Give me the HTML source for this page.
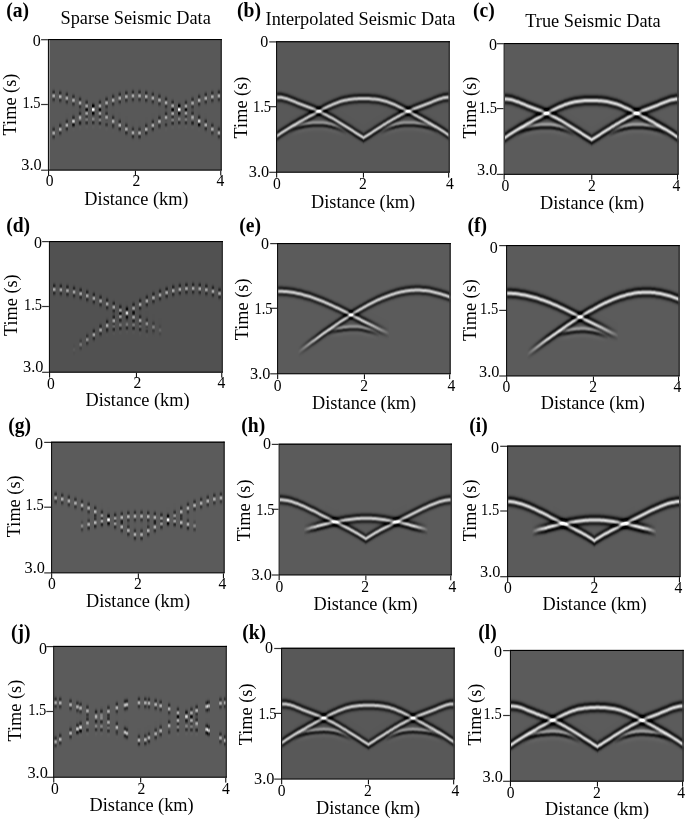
<!DOCTYPE html><html><head><meta charset="utf-8"><title>Seismic interpolation figure</title>
<style>html,body{margin:0;padding:0;background:#fff}svg{display:block}text{font-family:"Liberation Serif","Times New Roman",serif;fill:#000}.b{font-weight:bold;font-size:19.6px}.t{font-size:18.3px}.k{font-size:14.5px}.k3{font-size:16.3px}.k0{font-size:16px}.kx{font-size:15.6px}.pl{mix-blend-mode:plus-lighter}</style></head><body>
<svg width="685" height="821" viewBox="0 0 685 821">
<defs>
<clipPath id="ca"><rect x="49" y="39" width="172.9" height="130.9"/></clipPath><filter id="rka" filterUnits="userSpaceOnUse" x="47" y="25" width="176.9" height="158.9" color-interpolation-filters="sRGB"><feGaussianBlur stdDeviation="0.75 0.01" result="s"/><feColorMatrix in="s" type="matrix" values="1 0 0 0 0 1 0 0 0 0 1 0 0 0 0 0 0 0 0 1"/><feConvolveMatrix order="1 21" kernelMatrix="-0 -0.002 -0.008 -0.033 -0.103 -0.237 -0.375 -0.343 0.008 0.488 0.743 0.538 0.08 -0.282 -0.338 -0.22 -0.098 -0.032 -0.008 -0.001 -0" divisor="1" bias="0.3412" edgeMode="none" preserveAlpha="true" result="r1"/><feColorMatrix in="s" type="matrix" values="0 1 0 0 0 0 1 0 0 0 0 1 0 0 0 0 0 0 0 1"/><feConvolveMatrix order="1 25" kernelMatrix="-0.001 -0.003 -0.006 -0.011 -0.023 -0.044 -0.068 -0.053 0.081 0.353 0.586 0.481 0 -0.481 -0.586 -0.353 -0.081 0.053 0.068 0.044 0.023 0.011 0.006 0.003 0.001" divisor="1" bias="0.5" edgeMode="none" preserveAlpha="true" result="r2"/><feComposite in="r1" in2="r2" operator="arithmetic" k1="0" k2="1" k3="1" k4="-0.5"/></filter><clipPath id="cb"><rect x="277.1" y="41.2" width="172.8" height="130.8"/></clipPath><filter id="rkb" filterUnits="userSpaceOnUse" x="275.1" y="27.2" width="176.8" height="158.8" color-interpolation-filters="sRGB"><feGaussianBlur stdDeviation="0.5 0.01" result="s"/><feColorMatrix in="s" type="matrix" values="1 0 0 0 0 1 0 0 0 0 1 0 0 0 0 0 0 0 0 1"/><feConvolveMatrix order="1 21" kernelMatrix="-0 -0 -0.003 -0.014 -0.056 -0.158 -0.301 -0.333 -0.054 0.401 0.657 0.448 0.009 -0.283 -0.275 -0.148 -0.053 -0.014 -0.003 -0 -0" divisor="1" bias="0.3412" edgeMode="none" preserveAlpha="true" result="r1"/><feColorMatrix in="s" type="matrix" values="0 1 0 0 0 0 1 0 0 0 0 1 0 0 0 0 0 0 0 1"/><feConvolveMatrix order="1 25" kernelMatrix="-0.001 -0.002 -0.004 -0.007 -0.015 -0.03 -0.055 -0.062 0.021 0.254 0.503 0.447 -0 -0.447 -0.503 -0.254 -0.021 0.062 0.055 0.03 0.015 0.007 0.004 0.002 0.001" divisor="1" bias="0.5" edgeMode="none" preserveAlpha="true" result="r2"/><feComposite in="r1" in2="r2" operator="arithmetic" k1="0" k2="1" k3="1" k4="-0.5"/></filter><linearGradient id="g1" gradientUnits="userSpaceOnUse" x1="277.1" x2="363.5" y1="0" y2="0"><stop offset="0.000" stop-color="#b20000"/><stop offset="0.519" stop-color="#b20000"/><stop offset="1.000" stop-color="#b23e00"/></linearGradient><linearGradient id="g2" gradientUnits="userSpaceOnUse" x1="363.5" x2="449.9" y1="0" y2="0"><stop offset="0.000" stop-color="#b23e00"/><stop offset="0.481" stop-color="#b20000"/><stop offset="1.000" stop-color="#b20000"/></linearGradient><linearGradient id="g3" gradientUnits="userSpaceOnUse" x1="289.1" x2="346.8" y1="0" y2="0"><stop offset="0.000" stop-color="#000000"/><stop offset="0.207" stop-color="#007400"/><stop offset="0.759" stop-color="#007400"/><stop offset="1.000" stop-color="#000000"/></linearGradient><linearGradient id="g4" gradientUnits="userSpaceOnUse" x1="380.2" x2="437.9" y1="0" y2="0"><stop offset="0.000" stop-color="#000000"/><stop offset="0.241" stop-color="#007400"/><stop offset="0.793" stop-color="#007400"/><stop offset="1.000" stop-color="#000000"/></linearGradient><clipPath id="cc"><rect x="504.7" y="43" width="174" height="131.1"/></clipPath><filter id="rkc" filterUnits="userSpaceOnUse" x="502.7" y="29" width="178" height="159.1" color-interpolation-filters="sRGB"><feGaussianBlur stdDeviation="0.5 0.01" result="s"/><feColorMatrix in="s" type="matrix" values="1 0 0 0 0 1 0 0 0 0 1 0 0 0 0 0 0 0 0 1"/><feConvolveMatrix order="1 21" kernelMatrix="-0 -0.002 -0.008 -0.033 -0.103 -0.237 -0.375 -0.343 0.008 0.488 0.743 0.538 0.08 -0.282 -0.338 -0.22 -0.098 -0.032 -0.008 -0.001 -0" divisor="1" bias="0.3529" edgeMode="none" preserveAlpha="true" result="r1"/><feColorMatrix in="s" type="matrix" values="0 1 0 0 0 0 1 0 0 0 0 1 0 0 0 0 0 0 0 1"/><feConvolveMatrix order="1 25" kernelMatrix="-0.001 -0.003 -0.006 -0.011 -0.023 -0.044 -0.068 -0.053 0.081 0.353 0.586 0.481 0 -0.481 -0.586 -0.353 -0.081 0.053 0.068 0.044 0.023 0.011 0.006 0.003 0.001" divisor="1" bias="0.5" edgeMode="none" preserveAlpha="true" result="r2"/><feComposite in="r1" in2="r2" operator="arithmetic" k1="0" k2="1" k3="1" k4="-0.5"/></filter><linearGradient id="g5" gradientUnits="userSpaceOnUse" x1="504.7" x2="591.7" y1="0" y2="0"><stop offset="0.000" stop-color="#b20000"/><stop offset="0.519" stop-color="#b20000"/><stop offset="1.000" stop-color="#b23e00"/></linearGradient><linearGradient id="g6" gradientUnits="userSpaceOnUse" x1="591.7" x2="678.7" y1="0" y2="0"><stop offset="0.000" stop-color="#b23e00"/><stop offset="0.481" stop-color="#b20000"/><stop offset="1.000" stop-color="#b20000"/></linearGradient><linearGradient id="g7" gradientUnits="userSpaceOnUse" x1="516.7" x2="574.9" y1="0" y2="0"><stop offset="0.000" stop-color="#000000"/><stop offset="0.207" stop-color="#007400"/><stop offset="0.759" stop-color="#007400"/><stop offset="1.000" stop-color="#000000"/></linearGradient><linearGradient id="g8" gradientUnits="userSpaceOnUse" x1="608.5" x2="666.7" y1="0" y2="0"><stop offset="0.000" stop-color="#000000"/><stop offset="0.241" stop-color="#007400"/><stop offset="0.793" stop-color="#007400"/><stop offset="1.000" stop-color="#000000"/></linearGradient><clipPath id="cd"><rect x="50" y="241" width="173" height="131"/></clipPath><filter id="rkd" filterUnits="userSpaceOnUse" x="48" y="227" width="177" height="159" color-interpolation-filters="sRGB"><feGaussianBlur stdDeviation="0.75 0.01" result="s"/><feColorMatrix in="s" type="matrix" values="1 0 0 0 0 1 0 0 0 0 1 0 0 0 0 0 0 0 0 1"/><feConvolveMatrix order="1 21" kernelMatrix="-0 -0.002 -0.008 -0.033 -0.103 -0.237 -0.375 -0.343 0.008 0.488 0.743 0.538 0.08 -0.282 -0.338 -0.22 -0.098 -0.032 -0.008 -0.001 -0" divisor="1" bias="0.3137" edgeMode="none" preserveAlpha="true" result="r1"/><feColorMatrix in="s" type="matrix" values="0 1 0 0 0 0 1 0 0 0 0 1 0 0 0 0 0 0 0 1"/><feConvolveMatrix order="1 25" kernelMatrix="-0.001 -0.003 -0.006 -0.011 -0.023 -0.044 -0.068 -0.053 0.081 0.353 0.586 0.481 0 -0.481 -0.586 -0.353 -0.081 0.053 0.068 0.044 0.023 0.011 0.006 0.003 0.001" divisor="1" bias="0.5" edgeMode="none" preserveAlpha="true" result="r2"/><feComposite in="r1" in2="r2" operator="arithmetic" k1="0" k2="1" k3="1" k4="-0.5"/></filter><clipPath id="ce"><rect x="278.1" y="243" width="172.7" height="130.5"/></clipPath><filter id="rke" filterUnits="userSpaceOnUse" x="276.1" y="229" width="176.7" height="158.5" color-interpolation-filters="sRGB"><feGaussianBlur stdDeviation="0.5 0.01" result="s"/><feColorMatrix in="s" type="matrix" values="1 0 0 0 0 1 0 0 0 0 1 0 0 0 0 0 0 0 0 1"/><feConvolveMatrix order="1 21" kernelMatrix="-0 -0 -0.003 -0.014 -0.056 -0.158 -0.301 -0.333 -0.054 0.401 0.657 0.448 0.009 -0.283 -0.275 -0.148 -0.053 -0.014 -0.003 -0 -0" divisor="1" bias="0.3529" edgeMode="none" preserveAlpha="true" result="r1"/><feColorMatrix in="s" type="matrix" values="0 1 0 0 0 0 1 0 0 0 0 1 0 0 0 0 0 0 0 1"/><feConvolveMatrix order="1 25" kernelMatrix="-0.001 -0.002 -0.004 -0.007 -0.015 -0.03 -0.055 -0.062 0.021 0.254 0.503 0.447 -0 -0.447 -0.503 -0.254 -0.021 0.062 0.055 0.03 0.015 0.007 0.004 0.002 0.001" divisor="1" bias="0.5" edgeMode="none" preserveAlpha="true" result="r2"/><feComposite in="r1" in2="r2" operator="arithmetic" k1="0" k2="1" k3="1" k4="-0.5"/></filter><linearGradient id="g9" gradientUnits="userSpaceOnUse" x1="278.1" x2="389.6" y1="0" y2="0"><stop offset="0.000" stop-color="#b20000"/><stop offset="0.625" stop-color="#b20000"/><stop offset="0.786" stop-color="#b22700"/><stop offset="0.848" stop-color="#893600"/><stop offset="0.893" stop-color="#6b2600"/><stop offset="1.000" stop-color="#000000"/></linearGradient><linearGradient id="g10" gradientUnits="userSpaceOnUse" x1="298" x2="450.8" y1="0" y2="0"><stop offset="0.000" stop-color="#000000"/><stop offset="0.065" stop-color="#590000"/><stop offset="0.143" stop-color="#b20000"/><stop offset="1.000" stop-color="#b20000"/></linearGradient><linearGradient id="g11" gradientUnits="userSpaceOnUse" x1="327.9" x2="379.6" y1="0" y2="0"><stop offset="0.000" stop-color="#000000"/><stop offset="0.192" stop-color="#006b00"/><stop offset="0.769" stop-color="#006b00"/><stop offset="1.000" stop-color="#000000"/></linearGradient><clipPath id="cf"><rect x="507.1" y="245" width="172.7" height="130.7"/></clipPath><filter id="rkf" filterUnits="userSpaceOnUse" x="505.1" y="231" width="176.7" height="158.7" color-interpolation-filters="sRGB"><feGaussianBlur stdDeviation="0.5 0.01" result="s"/><feColorMatrix in="s" type="matrix" values="1 0 0 0 0 1 0 0 0 0 1 0 0 0 0 0 0 0 0 1"/><feConvolveMatrix order="1 21" kernelMatrix="-0 -0.002 -0.008 -0.033 -0.103 -0.237 -0.375 -0.343 0.008 0.488 0.743 0.538 0.08 -0.282 -0.338 -0.22 -0.098 -0.032 -0.008 -0.001 -0" divisor="1" bias="0.3529" edgeMode="none" preserveAlpha="true" result="r1"/><feColorMatrix in="s" type="matrix" values="0 1 0 0 0 0 1 0 0 0 0 1 0 0 0 0 0 0 0 1"/><feConvolveMatrix order="1 25" kernelMatrix="-0.001 -0.003 -0.006 -0.011 -0.023 -0.044 -0.068 -0.053 0.081 0.353 0.586 0.481 0 -0.481 -0.586 -0.353 -0.081 0.053 0.068 0.044 0.023 0.011 0.006 0.003 0.001" divisor="1" bias="0.5" edgeMode="none" preserveAlpha="true" result="r2"/><feComposite in="r1" in2="r2" operator="arithmetic" k1="0" k2="1" k3="1" k4="-0.5"/></filter><linearGradient id="g12" gradientUnits="userSpaceOnUse" x1="507.1" x2="618.6" y1="0" y2="0"><stop offset="0.000" stop-color="#b20000"/><stop offset="0.625" stop-color="#b20000"/><stop offset="0.786" stop-color="#b22700"/><stop offset="0.848" stop-color="#893600"/><stop offset="0.893" stop-color="#6b2600"/><stop offset="1.000" stop-color="#000000"/></linearGradient><linearGradient id="g13" gradientUnits="userSpaceOnUse" x1="527" x2="679.8" y1="0" y2="0"><stop offset="0.000" stop-color="#000000"/><stop offset="0.065" stop-color="#590000"/><stop offset="0.143" stop-color="#b20000"/><stop offset="1.000" stop-color="#b20000"/></linearGradient><linearGradient id="g14" gradientUnits="userSpaceOnUse" x1="556.9" x2="608.6" y1="0" y2="0"><stop offset="0.000" stop-color="#000000"/><stop offset="0.192" stop-color="#006b00"/><stop offset="0.769" stop-color="#006b00"/><stop offset="1.000" stop-color="#000000"/></linearGradient><clipPath id="cg"><rect x="52.1" y="441.7" width="172.6" height="130.9"/></clipPath><filter id="rkg" filterUnits="userSpaceOnUse" x="50.1" y="427.7" width="176.6" height="158.9" color-interpolation-filters="sRGB"><feGaussianBlur stdDeviation="0.75 0.01" result="s"/><feColorMatrix in="s" type="matrix" values="1 0 0 0 0 1 0 0 0 0 1 0 0 0 0 0 0 0 0 1"/><feConvolveMatrix order="1 21" kernelMatrix="-0 -0.002 -0.008 -0.033 -0.103 -0.237 -0.375 -0.343 0.008 0.488 0.743 0.538 0.08 -0.282 -0.338 -0.22 -0.098 -0.032 -0.008 -0.001 -0" divisor="1" bias="0.3529" edgeMode="none" preserveAlpha="true" result="r1"/><feColorMatrix in="s" type="matrix" values="0 1 0 0 0 0 1 0 0 0 0 1 0 0 0 0 0 0 0 1"/><feConvolveMatrix order="1 25" kernelMatrix="-0.001 -0.003 -0.006 -0.011 -0.023 -0.044 -0.068 -0.053 0.081 0.353 0.586 0.481 0 -0.481 -0.586 -0.353 -0.081 0.053 0.068 0.044 0.023 0.011 0.006 0.003 0.001" divisor="1" bias="0.5" edgeMode="none" preserveAlpha="true" result="r2"/><feComposite in="r1" in2="r2" operator="arithmetic" k1="0" k2="1" k3="1" k4="-0.5"/></filter><clipPath id="ch"><rect x="279.7" y="443.7" width="172.3" height="131"/></clipPath><filter id="rkh" filterUnits="userSpaceOnUse" x="277.7" y="429.7" width="176.3" height="159" color-interpolation-filters="sRGB"><feGaussianBlur stdDeviation="0.5 0.01" result="s"/><feColorMatrix in="s" type="matrix" values="1 0 0 0 0 1 0 0 0 0 1 0 0 0 0 0 0 0 0 1"/><feConvolveMatrix order="1 21" kernelMatrix="-0 -0 -0.003 -0.014 -0.056 -0.158 -0.301 -0.333 -0.054 0.401 0.657 0.448 0.009 -0.283 -0.275 -0.148 -0.053 -0.014 -0.003 -0 -0" divisor="1" bias="0.3529" edgeMode="none" preserveAlpha="true" result="r1"/><feColorMatrix in="s" type="matrix" values="0 1 0 0 0 0 1 0 0 0 0 1 0 0 0 0 0 0 0 1"/><feConvolveMatrix order="1 25" kernelMatrix="-0.001 -0.002 -0.004 -0.007 -0.015 -0.03 -0.055 -0.062 0.021 0.254 0.503 0.447 -0 -0.447 -0.503 -0.254 -0.021 0.062 0.055 0.03 0.015 0.007 0.004 0.002 0.001" divisor="1" bias="0.5" edgeMode="none" preserveAlpha="true" result="r2"/><feComposite in="r1" in2="r2" operator="arithmetic" k1="0" k2="1" k3="1" k4="-0.5"/></filter><linearGradient id="g15" gradientUnits="userSpaceOnUse" x1="279.7" x2="365.9" y1="0" y2="0"><stop offset="0.000" stop-color="#b20000"/><stop offset="0.519" stop-color="#b20000"/><stop offset="1.000" stop-color="#b23e00"/></linearGradient><linearGradient id="g16" gradientUnits="userSpaceOnUse" x1="365.9" x2="452" y1="0" y2="0"><stop offset="0.000" stop-color="#b23e00"/><stop offset="0.481" stop-color="#b20000"/><stop offset="1.000" stop-color="#b20000"/></linearGradient><linearGradient id="g17" gradientUnits="userSpaceOnUse" x1="303.5" x2="428.2" y1="0" y2="0"><stop offset="0.000" stop-color="#000000"/><stop offset="0.048" stop-color="#474300"/><stop offset="0.064" stop-color="#625900"/><stop offset="0.112" stop-color="#b25900"/><stop offset="0.207" stop-color="#b25900"/><stop offset="0.287" stop-color="#b20000"/><stop offset="0.713" stop-color="#b20000"/><stop offset="0.793" stop-color="#b25900"/><stop offset="0.888" stop-color="#b25900"/><stop offset="0.936" stop-color="#625900"/><stop offset="0.952" stop-color="#474300"/><stop offset="1.000" stop-color="#000000"/></linearGradient><clipPath id="ci"><rect x="508.1" y="445.6" width="172.5" height="130.8"/></clipPath><filter id="rki" filterUnits="userSpaceOnUse" x="506.1" y="431.6" width="176.5" height="158.8" color-interpolation-filters="sRGB"><feGaussianBlur stdDeviation="0.5 0.01" result="s"/><feColorMatrix in="s" type="matrix" values="1 0 0 0 0 1 0 0 0 0 1 0 0 0 0 0 0 0 0 1"/><feConvolveMatrix order="1 21" kernelMatrix="-0 -0.002 -0.008 -0.033 -0.103 -0.237 -0.375 -0.343 0.008 0.488 0.743 0.538 0.08 -0.282 -0.338 -0.22 -0.098 -0.032 -0.008 -0.001 -0" divisor="1" bias="0.3529" edgeMode="none" preserveAlpha="true" result="r1"/><feColorMatrix in="s" type="matrix" values="0 1 0 0 0 0 1 0 0 0 0 1 0 0 0 0 0 0 0 1"/><feConvolveMatrix order="1 25" kernelMatrix="-0.001 -0.003 -0.006 -0.011 -0.023 -0.044 -0.068 -0.053 0.081 0.353 0.586 0.481 0 -0.481 -0.586 -0.353 -0.081 0.053 0.068 0.044 0.023 0.011 0.006 0.003 0.001" divisor="1" bias="0.5" edgeMode="none" preserveAlpha="true" result="r2"/><feComposite in="r1" in2="r2" operator="arithmetic" k1="0" k2="1" k3="1" k4="-0.5"/></filter><linearGradient id="g18" gradientUnits="userSpaceOnUse" x1="508.1" x2="594.4" y1="0" y2="0"><stop offset="0.000" stop-color="#b20000"/><stop offset="0.519" stop-color="#b20000"/><stop offset="1.000" stop-color="#b23e00"/></linearGradient><linearGradient id="g19" gradientUnits="userSpaceOnUse" x1="594.4" x2="680.6" y1="0" y2="0"><stop offset="0.000" stop-color="#b23e00"/><stop offset="0.481" stop-color="#b20000"/><stop offset="1.000" stop-color="#b20000"/></linearGradient><linearGradient id="g20" gradientUnits="userSpaceOnUse" x1="532" x2="656.7" y1="0" y2="0"><stop offset="0.000" stop-color="#000000"/><stop offset="0.048" stop-color="#474300"/><stop offset="0.064" stop-color="#625900"/><stop offset="0.112" stop-color="#b25900"/><stop offset="0.207" stop-color="#b25900"/><stop offset="0.287" stop-color="#b20000"/><stop offset="0.713" stop-color="#b20000"/><stop offset="0.793" stop-color="#b25900"/><stop offset="0.888" stop-color="#b25900"/><stop offset="0.936" stop-color="#625900"/><stop offset="0.952" stop-color="#474300"/><stop offset="1.000" stop-color="#000000"/></linearGradient><clipPath id="cj"><rect x="54.2" y="645.9" width="172.8" height="131.1"/></clipPath><filter id="rkj" filterUnits="userSpaceOnUse" x="52.2" y="631.9" width="176.8" height="159.1" color-interpolation-filters="sRGB"><feGaussianBlur stdDeviation="0.75 0.01" result="s"/><feColorMatrix in="s" type="matrix" values="1 0 0 0 0 1 0 0 0 0 1 0 0 0 0 0 0 0 0 1"/><feConvolveMatrix order="1 21" kernelMatrix="-0 -0.002 -0.008 -0.033 -0.103 -0.237 -0.375 -0.343 0.008 0.488 0.743 0.538 0.08 -0.282 -0.338 -0.22 -0.098 -0.032 -0.008 -0.001 -0" divisor="1" bias="0.3529" edgeMode="none" preserveAlpha="true" result="r1"/><feColorMatrix in="s" type="matrix" values="0 1 0 0 0 0 1 0 0 0 0 1 0 0 0 0 0 0 0 1"/><feConvolveMatrix order="1 25" kernelMatrix="-0.001 -0.003 -0.006 -0.011 -0.023 -0.044 -0.068 -0.053 0.081 0.353 0.586 0.481 0 -0.481 -0.586 -0.353 -0.081 0.053 0.068 0.044 0.023 0.011 0.006 0.003 0.001" divisor="1" bias="0.5" edgeMode="none" preserveAlpha="true" result="r2"/><feComposite in="r1" in2="r2" operator="arithmetic" k1="0" k2="1" k3="1" k4="-0.5"/></filter><clipPath id="ck"><rect x="282.1" y="647.8" width="172.7" height="131"/></clipPath><filter id="rkk" filterUnits="userSpaceOnUse" x="280.1" y="633.8" width="176.7" height="159" color-interpolation-filters="sRGB"><feGaussianBlur stdDeviation="0.5 0.01" result="s"/><feColorMatrix in="s" type="matrix" values="1 0 0 0 0 1 0 0 0 0 1 0 0 0 0 0 0 0 0 1"/><feConvolveMatrix order="1 21" kernelMatrix="-0 -0 -0.003 -0.014 -0.056 -0.158 -0.301 -0.333 -0.054 0.401 0.657 0.448 0.009 -0.283 -0.275 -0.148 -0.053 -0.014 -0.003 -0 -0" divisor="1" bias="0.3412" edgeMode="none" preserveAlpha="true" result="r1"/><feColorMatrix in="s" type="matrix" values="0 1 0 0 0 0 1 0 0 0 0 1 0 0 0 0 0 0 0 1"/><feConvolveMatrix order="1 25" kernelMatrix="-0.001 -0.002 -0.004 -0.007 -0.015 -0.03 -0.055 -0.062 0.021 0.254 0.503 0.447 -0 -0.447 -0.503 -0.254 -0.021 0.062 0.055 0.03 0.015 0.007 0.004 0.002 0.001" divisor="1" bias="0.5" edgeMode="none" preserveAlpha="true" result="r2"/><feComposite in="r1" in2="r2" operator="arithmetic" k1="0" k2="1" k3="1" k4="-0.5"/></filter><linearGradient id="g21" gradientUnits="userSpaceOnUse" x1="282.1" x2="368.5" y1="0" y2="0"><stop offset="0.000" stop-color="#b20000"/><stop offset="0.519" stop-color="#b20000"/><stop offset="1.000" stop-color="#b23e00"/></linearGradient><linearGradient id="g22" gradientUnits="userSpaceOnUse" x1="368.5" x2="454.8" y1="0" y2="0"><stop offset="0.000" stop-color="#b23e00"/><stop offset="0.481" stop-color="#b20000"/><stop offset="1.000" stop-color="#b20000"/></linearGradient><linearGradient id="g23" gradientUnits="userSpaceOnUse" x1="294" x2="351.8" y1="0" y2="0"><stop offset="0.000" stop-color="#000000"/><stop offset="0.207" stop-color="#007400"/><stop offset="0.759" stop-color="#007400"/><stop offset="1.000" stop-color="#000000"/></linearGradient><linearGradient id="g24" gradientUnits="userSpaceOnUse" x1="385.1" x2="442.9" y1="0" y2="0"><stop offset="0.000" stop-color="#000000"/><stop offset="0.241" stop-color="#007400"/><stop offset="0.793" stop-color="#007400"/><stop offset="1.000" stop-color="#000000"/></linearGradient><clipPath id="cl"><rect x="511" y="649.9" width="172.8" height="131.1"/></clipPath><filter id="rkl" filterUnits="userSpaceOnUse" x="509" y="635.9" width="176.8" height="159.1" color-interpolation-filters="sRGB"><feGaussianBlur stdDeviation="0.5 0.01" result="s"/><feColorMatrix in="s" type="matrix" values="1 0 0 0 0 1 0 0 0 0 1 0 0 0 0 0 0 0 0 1"/><feConvolveMatrix order="1 21" kernelMatrix="-0 -0.002 -0.008 -0.033 -0.103 -0.237 -0.375 -0.343 0.008 0.488 0.743 0.538 0.08 -0.282 -0.338 -0.22 -0.098 -0.032 -0.008 -0.001 -0" divisor="1" bias="0.3529" edgeMode="none" preserveAlpha="true" result="r1"/><feColorMatrix in="s" type="matrix" values="0 1 0 0 0 0 1 0 0 0 0 1 0 0 0 0 0 0 0 1"/><feConvolveMatrix order="1 25" kernelMatrix="-0.001 -0.003 -0.006 -0.011 -0.023 -0.044 -0.068 -0.053 0.081 0.353 0.586 0.481 0 -0.481 -0.586 -0.353 -0.081 0.053 0.068 0.044 0.023 0.011 0.006 0.003 0.001" divisor="1" bias="0.5" edgeMode="none" preserveAlpha="true" result="r2"/><feComposite in="r1" in2="r2" operator="arithmetic" k1="0" k2="1" k3="1" k4="-0.5"/></filter><linearGradient id="g25" gradientUnits="userSpaceOnUse" x1="511" x2="597.4" y1="0" y2="0"><stop offset="0.000" stop-color="#b20000"/><stop offset="0.519" stop-color="#b20000"/><stop offset="1.000" stop-color="#b23e00"/></linearGradient><linearGradient id="g26" gradientUnits="userSpaceOnUse" x1="597.4" x2="683.8" y1="0" y2="0"><stop offset="0.000" stop-color="#b23e00"/><stop offset="0.481" stop-color="#b20000"/><stop offset="1.000" stop-color="#b20000"/></linearGradient><linearGradient id="g27" gradientUnits="userSpaceOnUse" x1="523" x2="580.7" y1="0" y2="0"><stop offset="0.000" stop-color="#000000"/><stop offset="0.207" stop-color="#007400"/><stop offset="0.759" stop-color="#007400"/><stop offset="1.000" stop-color="#000000"/></linearGradient><linearGradient id="g28" gradientUnits="userSpaceOnUse" x1="614.1" x2="671.8" y1="0" y2="0"><stop offset="0.000" stop-color="#000000"/><stop offset="0.241" stop-color="#007400"/><stop offset="0.793" stop-color="#007400"/><stop offset="1.000" stop-color="#000000"/></linearGradient>
</defs>
<rect width="685" height="821" fill="#fff"/>
<g id="panel-a">
<rect x="49" y="39" width="172.9" height="130.9" fill="#575757"/>
<g clip-path="url(#ca)"><g filter="url(#rka)" style="isolation:isolate">
<rect x="46" y="24" width="178.9" height="160.9" fill="#000"/>
<rect class="pl" x="52.4" y="95.29" width="2.5" height="1" fill="#790000"/><rect class="pl" x="59" y="96.10" width="2.5" height="1" fill="#790000"/><rect class="pl" x="65.6" y="97.60" width="2.5" height="1" fill="#790000"/><rect class="pl" x="72.2" y="99.73" width="2.5" height="1" fill="#790000"/><rect class="pl" x="78.8" y="102.40" width="2.5" height="1" fill="#790000"/><rect class="pl" x="85.4" y="105.52" width="2.5" height="1" fill="#790000"/><rect class="pl" x="92" y="109.02" width="2.5" height="1" fill="#790000"/><rect class="pl" x="98.7" y="112.79" width="2.5" height="1" fill="#790500"/><rect class="pl" x="105.3" y="116.76" width="2.5" height="1" fill="#790c00"/><rect class="pl" x="111.9" y="120.82" width="2.5" height="1" fill="#791300"/><rect class="pl" x="118.5" y="124.88" width="2.5" height="1" fill="#791900"/><rect class="pl" x="125.1" y="128.83" width="2.5" height="1" fill="#792000"/><rect class="pl" x="131.7" y="132.57" width="2.5" height="1" fill="#792700"/>
<rect class="pl" x="138.3" y="132.75" width="2.5" height="1" fill="#792700"/><rect class="pl" x="145" y="129.02" width="2.5" height="1" fill="#792100"/><rect class="pl" x="151.6" y="125.07" width="2.5" height="1" fill="#791a00"/><rect class="pl" x="158.2" y="121.02" width="2.5" height="1" fill="#791300"/><rect class="pl" x="164.8" y="116.95" width="2.5" height="1" fill="#790c00"/><rect class="pl" x="171.4" y="112.98" width="2.5" height="1" fill="#790500"/><rect class="pl" x="178" y="109.19" width="2.5" height="1" fill="#790000"/><rect class="pl" x="184.7" y="105.68" width="2.5" height="1" fill="#790000"/><rect class="pl" x="191.3" y="102.54" width="2.5" height="1" fill="#790000"/><rect class="pl" x="197.9" y="99.85" width="2.5" height="1" fill="#790000"/><rect class="pl" x="204.5" y="97.69" width="2.5" height="1" fill="#790000"/><rect class="pl" x="211.1" y="96.16" width="2.5" height="1" fill="#790000"/><rect class="pl" x="217.7" y="95.31" width="2.5" height="1" fill="#790000"/>
<rect class="pl" x="52.4" y="132.50" width="2.5" height="1" fill="#790000"/><rect class="pl" x="59" y="128.75" width="2.5" height="1" fill="#790000"/><rect class="pl" x="65.6" y="124.80" width="2.5" height="1" fill="#790000"/><rect class="pl" x="72.2" y="120.74" width="2.5" height="1" fill="#790000"/><rect class="pl" x="78.8" y="116.68" width="2.5" height="1" fill="#790000"/><rect class="pl" x="85.4" y="112.71" width="2.5" height="1" fill="#790000"/><rect class="pl" x="92" y="108.94" width="2.5" height="1" fill="#790000"/><rect class="pl" x="98.7" y="105.45" width="2.5" height="1" fill="#790000"/><rect class="pl" x="105.3" y="102.34" width="2.5" height="1" fill="#790000"/><rect class="pl" x="111.9" y="99.68" width="2.5" height="1" fill="#790000"/><rect class="pl" x="118.5" y="97.57" width="2.5" height="1" fill="#790000"/><rect class="pl" x="125.1" y="96.07" width="2.5" height="1" fill="#790000"/><rect class="pl" x="131.7" y="95.28" width="2.5" height="1" fill="#790000"/><rect class="pl" x="138.3" y="95.26" width="2.5" height="1" fill="#790000"/><rect class="pl" x="145" y="96.02" width="2.5" height="1" fill="#790000"/><rect class="pl" x="151.6" y="97.48" width="2.5" height="1" fill="#790000"/><rect class="pl" x="158.2" y="99.56" width="2.5" height="1" fill="#790000"/><rect class="pl" x="164.8" y="102.20" width="2.5" height="1" fill="#790000"/><rect class="pl" x="171.4" y="105.29" width="2.5" height="1" fill="#790000"/><rect class="pl" x="178" y="108.77" width="2.5" height="1" fill="#790000"/><rect class="pl" x="184.7" y="112.53" width="2.5" height="1" fill="#790000"/><rect class="pl" x="191.3" y="116.48" width="2.5" height="1" fill="#790000"/><rect class="pl" x="197.9" y="120.54" width="2.5" height="1" fill="#790000"/><rect class="pl" x="204.5" y="124.60" width="2.5" height="1" fill="#790000"/><rect class="pl" x="211.1" y="128.57" width="2.5" height="1" fill="#790000"/><rect class="pl" x="217.7" y="132.32" width="2.5" height="1" fill="#790000"/>
<rect class="pl" x="65.6" y="125.15" width="2.5" height="1" fill="#001500"/><rect class="pl" x="72.2" y="122.40" width="2.5" height="1" fill="#004400"/><rect class="pl" x="78.8" y="121.16" width="2.5" height="1" fill="#004f00"/><rect class="pl" x="85.4" y="120.55" width="2.5" height="1" fill="#004f00"/><rect class="pl" x="92" y="120.38" width="2.5" height="1" fill="#004f00"/><rect class="pl" x="98.7" y="120.98" width="2.5" height="1" fill="#004f00"/><rect class="pl" x="105.3" y="122.46" width="2.5" height="1" fill="#004400"/><rect class="pl" x="111.9" y="125.02" width="2.5" height="1" fill="#001c00"/>
<rect class="pl" x="158.2" y="125.18" width="2.5" height="1" fill="#001a00"/><rect class="pl" x="164.8" y="122.56" width="2.5" height="1" fill="#004300"/><rect class="pl" x="171.4" y="121.03" width="2.5" height="1" fill="#004f00"/><rect class="pl" x="178" y="120.39" width="2.5" height="1" fill="#004f00"/><rect class="pl" x="184.7" y="120.53" width="2.5" height="1" fill="#004f00"/><rect class="pl" x="191.3" y="121.12" width="2.5" height="1" fill="#004f00"/><rect class="pl" x="197.9" y="122.31" width="2.5" height="1" fill="#004700"/><rect class="pl" x="204.5" y="124.97" width="2.5" height="1" fill="#001700"/>
</g></g>
<rect x="49" y="39" width="0.9" height="130.9" fill="#9a9a9a"/>
<rect x="220.4" y="39" width="1.5" height="130.9" fill="#363636"/>
<rect x="47.9" y="39" width="1.1" height="131.7" fill="#111"/>
<rect x="47.9" y="39" width="174" height="1.1" fill="#000"/>
<rect x="47.9" y="169.6" width="174" height="1.1" fill="#000"/>
<rect x="41.1" y="39.1" width="6.8" height="1.2" fill="#333"/>
<rect x="41.1" y="103.9" width="6.8" height="1.2" fill="#333"/>
<rect x="41.1" y="169.6" width="6.8" height="1.2" fill="#333"/>
<rect x="48" y="170.7" width="1.1" height="4.8" fill="#111"/>
<rect x="134.9" y="170.7" width="1.1" height="4.8" fill="#111"/>
<rect x="220.2" y="170.7" width="1.1" height="4.8" fill="#111"/>
<text class="k0" text-anchor="end" transform="translate(40.7 46.4)">0</text>
<text class="k" text-anchor="end" transform="translate(40.6 108) scale(1 1.16)">1.5</text>
<text class="k3" text-anchor="end" transform="translate(41.7 170.4) scale(1 1.05)">3.0</text>
<text class="kx" text-anchor="middle" transform="translate(49.7 186) scale(1 1.05)">0</text>
<text class="kx" text-anchor="middle" transform="translate(136.4 186) scale(1 1.05)">2</text>
<text class="kx" text-anchor="middle" transform="translate(220.4 186) scale(1 1.05)">4</text>
<text class="t" text-anchor="middle" transform="translate(136.4 204.9)">Distance (km)</text>
<text class="t" text-anchor="middle" transform="translate(15.6 104.5) rotate(-90)">Time (s)</text>
</g>
<g id="panel-b">
<rect x="277.1" y="41.2" width="172.8" height="130.8" fill="#575757"/>
<g clip-path="url(#cb)"><g filter="url(#rkb)" style="isolation:isolate">
<rect x="274.1" y="26.2" width="178.8" height="160.8" fill="#000"/>
<polygon class="pl" fill="url(#g1)" points="277.1,96.7 279.1,96.7 281.1,96.8 283.1,97.2 285.1,97.7 287.1,98.3 289.1,98.9 291,99.7 293,100.5 295,101.3 297,102.2 299,103 301,103.8 303,104.5 305,105.3 307,106 309,106.8 311,107.5 313,108.3 314.9,109.1 316.9,110 318.9,110.8 320.9,111.8 322.9,112.7 324.9,113.7 326.9,114.8 328.9,115.9 330.9,117 332.9,118.1 334.9,119.3 336.9,120.5 338.8,121.7 340.8,122.9 342.8,124.2 344.8,125.4 346.8,126.7 348.8,128 350.8,129.3 352.8,130.6 354.8,131.9 356.8,133.2 358.8,134.5 360.8,135.7 362.8,137 363.5,137.5 363.5,138.5 362.8,138 360.8,136.7 358.8,135.5 356.8,134.2 354.8,132.9 352.8,131.6 350.8,130.3 348.8,129 346.8,127.7 344.8,126.4 342.8,125.2 340.8,123.9 338.8,122.7 336.9,121.5 334.9,120.3 332.9,119.1 330.9,118 328.9,116.9 326.9,115.8 324.9,114.7 322.9,113.7 320.9,112.8 318.9,111.8 316.9,111 314.9,110.1 313,109.3 311,108.5 309,107.8 307,107 305,106.3 303,105.5 301,104.8 299,104 297,103.2 295,102.3 293,101.5 291,100.7 289.1,99.9 287.1,99.3 285.1,98.7 283.1,98.2 281.1,97.8 279.1,97.7 277.1,97.7"/>
<polygon class="pl" fill="url(#g2)" points="363.5,137.5 365.5,136.2 367.5,134.9 369.5,133.7 371.5,132.4 373.5,131.1 375.5,129.8 377.4,128.5 379.4,127.2 381.4,125.9 383.4,124.6 385.4,123.4 387.4,122.1 389.4,120.9 391.4,119.7 393.4,118.5 395.4,117.4 397.4,116.3 399.4,115.2 401.3,114.1 403.3,113.1 405.3,112.1 407.3,111.2 409.3,110.3 411.3,109.4 413.3,108.6 415.3,107.8 417.3,107.1 419.3,106.3 421.3,105.6 423.3,104.8 425.2,104.1 427.2,103.3 429.2,102.5 431.2,101.7 433.2,100.8 435.2,100 437.2,99.2 439.2,98.5 441.2,97.9 443.2,97.3 445.2,96.9 447.2,96.7 449.2,96.7 449.9,96.7 449.9,97.7 449.2,97.7 447.2,97.7 445.2,97.9 443.2,98.3 441.2,98.9 439.2,99.5 437.2,100.2 435.2,101 433.2,101.8 431.2,102.7 429.2,103.5 427.2,104.3 425.2,105.1 423.3,105.8 421.3,106.6 419.3,107.3 417.3,108.1 415.3,108.8 413.3,109.6 411.3,110.4 409.3,111.3 407.3,112.2 405.3,113.1 403.3,114.1 401.3,115.1 399.4,116.2 397.4,117.3 395.4,118.4 393.4,119.5 391.4,120.7 389.4,121.9 387.4,123.1 385.4,124.4 383.4,125.6 381.4,126.9 379.4,128.2 377.4,129.5 375.5,130.8 373.5,132.1 371.5,133.4 369.5,134.7 367.5,135.9 365.5,137.2 363.5,138.5"/>
<polygon class="pl" fill="#b20000" points="277.1,135.3 279.1,133.9 281.1,132.6 283.1,131.3 285.1,130 287.1,128.8 289.1,127.5 291,126.3 293,125.1 295,123.9 297,122.8 299,121.6 301,120.5 303,119.4 305,118.3 307,117.2 309,116.1 311,115 313,113.9 314.9,112.9 316.9,111.8 318.9,110.7 320.9,109.7 322.9,108.6 324.9,107.6 326.9,106.6 328.9,105.6 330.9,104.7 332.9,103.8 334.9,103 336.9,102.2 338.8,101.5 340.8,100.8 342.8,100.3 344.8,99.8 346.8,99.4 348.8,99.1 350.8,98.8 352.8,98.5 354.8,98.3 356.8,98.2 358.8,98.1 360.8,98 362.8,98 364.7,98 366.7,98 368.7,98.1 370.7,98.2 372.7,98.4 374.7,98.6 376.7,98.8 378.7,99.1 380.7,99.5 382.7,99.9 384.7,100.4 386.7,101 388.6,101.7 390.6,102.4 392.6,103.2 394.6,104 396.6,104.9 398.6,105.9 400.6,106.9 402.6,107.9 404.6,108.9 406.6,110 408.6,111 410.6,112.1 412.6,113.1 414.5,114.2 416.5,115.3 418.5,116.4 420.5,117.4 422.5,118.5 424.5,119.7 426.5,120.8 428.5,121.9 430.5,123.1 432.5,124.2 434.5,125.4 436.5,126.6 438.4,127.8 440.4,129.1 442.4,130.3 444.4,131.6 446.4,132.9 448.4,134.3 449.9,135.3 449.9,136.3 448.4,135.3 446.4,133.9 444.4,132.6 442.4,131.3 440.4,130.1 438.4,128.8 436.5,127.6 434.5,126.4 432.5,125.2 430.5,124.1 428.5,122.9 426.5,121.8 424.5,120.7 422.5,119.5 420.5,118.4 418.5,117.4 416.5,116.3 414.5,115.2 412.6,114.1 410.6,113.1 408.6,112 406.6,111 404.6,109.9 402.6,108.9 400.6,107.9 398.6,106.9 396.6,105.9 394.6,105 392.6,104.2 390.6,103.4 388.6,102.7 386.7,102 384.7,101.4 382.7,100.9 380.7,100.5 378.7,100.1 376.7,99.8 374.7,99.6 372.7,99.4 370.7,99.2 368.7,99.1 366.7,99 364.7,99 362.8,99 360.8,99 358.8,99.1 356.8,99.2 354.8,99.3 352.8,99.5 350.8,99.8 348.8,100.1 346.8,100.4 344.8,100.8 342.8,101.3 340.8,101.8 338.8,102.5 336.9,103.2 334.9,104 332.9,104.8 330.9,105.7 328.9,106.6 326.9,107.6 324.9,108.6 322.9,109.6 320.9,110.7 318.9,111.7 316.9,112.8 314.9,113.9 313,114.9 311,116 309,117.1 307,118.2 305,119.3 303,120.4 301,121.5 299,122.6 297,123.8 295,124.9 293,126.1 291,127.3 289.1,128.5 287.1,129.8 285.1,131 283.1,132.3 281.1,133.6 279.1,134.9 277.1,136.3"/>
<polygon class="pl" fill="url(#g3)" points="289.1,131.2 291,129.8 293,128.6 295,127.6 297,126.7 299,126 301,125.4 303,124.9 305,124.6 307,124.3 309,124 311,123.8 313,123.6 314.9,123.5 316.9,123.4 318.9,123.4 320.9,123.4 322.9,123.5 324.9,123.7 326.9,124 328.9,124.4 330.9,124.8 332.9,125.4 334.9,126 336.9,126.7 338.8,127.5 340.8,128.5 342.8,129.4 344.8,130.5 346.8,131.7 346.8,132.7 344.8,131.5 342.8,130.4 340.8,129.5 338.8,128.5 336.9,127.7 334.9,127 332.9,126.4 330.9,125.8 328.9,125.4 326.9,125 324.9,124.7 322.9,124.5 320.9,124.4 318.9,124.4 316.9,124.4 314.9,124.5 313,124.6 311,124.8 309,125 307,125.3 305,125.6 303,125.9 301,126.4 299,127 297,127.7 295,128.6 293,129.6 291,130.8 289.1,132.2"/>
<polygon class="pl" fill="url(#g4)" points="380.2,131.7 382.2,130.5 384.2,129.4 386.2,128.5 388.2,127.5 390.1,126.7 392.1,126 394.1,125.4 396.1,124.8 398.1,124.4 400.1,124 402.1,123.7 404.1,123.5 406.1,123.4 408.1,123.4 410.1,123.4 412.1,123.5 414,123.6 416,123.8 418,124 420,124.3 422,124.6 424,124.9 426,125.4 428,126 430,126.7 432,127.6 434,128.6 436,129.8 437.9,131.2 437.9,132.2 436,130.8 434,129.6 432,128.6 430,127.7 428,127 426,126.4 424,125.9 422,125.6 420,125.3 418,125 416,124.8 414,124.6 412.1,124.5 410.1,124.4 408.1,124.4 406.1,124.4 404.1,124.5 402.1,124.7 400.1,125 398.1,125.4 396.1,125.8 394.1,126.4 392.1,127 390.1,127.7 388.2,128.5 386.2,129.5 384.2,130.4 382.2,131.5 380.2,132.7"/>
</g></g>
<rect x="448.4" y="41.2" width="1.5" height="130.8" fill="#363636"/>
<rect x="276" y="41.2" width="1.1" height="131.6" fill="#111"/>
<rect x="276" y="41.2" width="173.9" height="1.1" fill="#000"/>
<rect x="276" y="171.7" width="173.9" height="1.1" fill="#000"/>
<rect x="269.2" y="41.3" width="6.8" height="1.2" fill="#333"/>
<rect x="269.2" y="106.1" width="6.8" height="1.2" fill="#333"/>
<rect x="269.2" y="171.7" width="6.8" height="1.2" fill="#333"/>
<rect x="276.1" y="172.8" width="1.1" height="4.8" fill="#111"/>
<rect x="362.9" y="172.8" width="1.1" height="4.8" fill="#111"/>
<rect x="448.1" y="172.8" width="1.1" height="4.8" fill="#111"/>
<text class="k0" text-anchor="end" transform="translate(268.2 46.7)">0</text>
<text class="k" text-anchor="end" transform="translate(271 112.1) scale(1 1.16)">1.5</text>
<text class="k3" text-anchor="end" transform="translate(269.2 176.7) scale(1 1.05)">3.0</text>
<text class="kx" text-anchor="middle" transform="translate(276.8 189.1) scale(1 1.05)">0</text>
<text class="kx" text-anchor="middle" transform="translate(362.9 189.2) scale(1 1.05)">2</text>
<text class="kx" text-anchor="middle" transform="translate(449.8 189.3) scale(1 1.05)">4</text>
<text class="t" text-anchor="middle" transform="translate(363.1 207.9)">Distance (km)</text>
<text class="t" text-anchor="middle" transform="translate(246.6 107.5) rotate(-90)">Time (s)</text>
</g>
<g id="panel-c">
<rect x="504.7" y="43" width="174" height="131.1" fill="#5a5a5a"/>
<g clip-path="url(#cc)"><g filter="url(#rkc)" style="isolation:isolate">
<rect x="501.7" y="28" width="180" height="161.1" fill="#000"/>
<polygon class="pl" fill="url(#g5)" points="504.7,98.6 506.7,98.6 508.7,98.8 510.7,99.1 512.7,99.6 514.7,100.2 516.7,100.9 518.7,101.6 520.7,102.5 522.8,103.3 524.8,104.1 526.8,104.9 528.8,105.7 530.8,106.5 532.8,107.2 534.8,108 536.8,108.7 538.8,109.5 540.8,110.3 542.8,111.1 544.8,111.9 546.8,112.8 548.8,113.7 550.8,114.7 552.8,115.7 554.8,116.7 556.8,117.8 558.9,118.9 560.9,120.1 562.9,121.3 564.9,122.4 566.9,123.7 568.9,124.9 570.9,126.2 572.9,127.4 574.9,128.7 576.9,130 578.9,131.3 580.9,132.6 582.9,133.9 584.9,135.2 586.9,136.5 588.9,137.8 590.9,139 591.7,139.5 591.7,140.5 590.9,140 588.9,138.8 586.9,137.5 584.9,136.2 582.9,134.9 580.9,133.6 578.9,132.3 576.9,131 574.9,129.7 572.9,128.4 570.9,127.2 568.9,125.9 566.9,124.7 564.9,123.4 562.9,122.3 560.9,121.1 558.9,119.9 556.8,118.8 554.8,117.7 552.8,116.7 550.8,115.7 548.8,114.7 546.8,113.8 544.8,112.9 542.8,112.1 540.8,111.3 538.8,110.5 536.8,109.7 534.8,109 532.8,108.2 530.8,107.5 528.8,106.7 526.8,105.9 524.8,105.1 522.8,104.3 520.7,103.5 518.7,102.6 516.7,101.9 514.7,101.2 512.7,100.6 510.7,100.1 508.7,99.8 506.7,99.6 504.7,99.6"/>
<polygon class="pl" fill="url(#g6)" points="591.7,139.5 593.7,138.2 595.7,137 597.7,135.7 599.7,134.4 601.7,133.1 603.7,131.8 605.7,130.5 607.7,129.2 609.8,127.9 611.8,126.6 613.8,125.4 615.8,124.1 617.8,122.9 619.8,121.7 621.8,120.5 623.8,119.4 625.8,118.2 627.8,117.1 629.8,116.1 631.8,115.1 633.8,114.1 635.8,113.1 637.8,112.3 639.8,111.4 641.8,110.6 643.8,109.8 645.9,109 647.9,108.3 649.9,107.5 651.9,106.8 653.9,106 655.9,105.2 657.9,104.4 659.9,103.6 661.9,102.8 663.9,101.9 665.9,101.2 667.9,100.4 669.9,99.8 671.9,99.3 673.9,98.9 675.9,98.6 677.9,98.6 678.7,98.6 678.7,99.6 677.9,99.6 675.9,99.6 673.9,99.9 671.9,100.3 669.9,100.8 667.9,101.4 665.9,102.2 663.9,102.9 661.9,103.8 659.9,104.6 657.9,105.4 655.9,106.2 653.9,107 651.9,107.8 649.9,108.5 647.9,109.3 645.9,110 643.8,110.8 641.8,111.6 639.8,112.4 637.8,113.3 635.8,114.1 633.8,115.1 631.8,116.1 629.8,117.1 627.8,118.1 625.8,119.2 623.8,120.4 621.8,121.5 619.8,122.7 617.8,123.9 615.8,125.1 613.8,126.4 611.8,127.6 609.8,128.9 607.7,130.2 605.7,131.5 603.7,132.8 601.7,134.1 599.7,135.4 597.7,136.7 595.7,138 593.7,139.2 591.7,140.5"/>
<polygon class="pl" fill="#b20000" points="504.7,137.3 506.7,136 508.7,134.6 510.7,133.3 512.7,132 514.7,130.8 516.7,129.5 518.7,128.3 520.7,127.1 522.8,125.9 524.8,124.8 526.8,123.6 528.8,122.5 530.8,121.4 532.8,120.2 534.8,119.1 536.8,118.1 538.8,117 540.8,115.9 542.8,114.8 544.8,113.8 546.8,112.7 548.8,111.6 550.8,110.6 552.8,109.6 554.8,108.6 556.8,107.6 558.9,106.6 560.9,105.8 562.9,104.9 564.9,104.1 566.9,103.4 568.9,102.8 570.9,102.2 572.9,101.7 574.9,101.3 576.9,101 578.9,100.7 580.9,100.5 582.9,100.3 584.9,100.1 586.9,100 588.9,100 590.9,99.9 593,99.9 595,100 597,100.1 599,100.2 601,100.3 603,100.5 605,100.8 607,101.1 609,101.4 611,101.9 613,102.4 615,102.9 617,103.6 619,104.3 621,105.1 623,106 625,106.9 627.1,107.8 629.1,108.8 631.1,109.8 633.1,110.9 635.1,111.9 637.1,113 639.1,114 641.1,115.1 643.1,116.2 645.1,117.2 647.1,118.3 649.1,119.4 651.1,120.5 653.1,121.6 655.1,122.8 657.1,123.9 659.1,125.1 661.1,126.2 663.2,127.4 665.2,128.6 667.2,129.8 669.2,131.1 671.2,132.3 673.2,133.6 675.2,135 677.2,136.3 678.7,137.3 678.7,138.3 677.2,137.3 675.2,136 673.2,134.6 671.2,133.3 669.2,132.1 667.2,130.8 665.2,129.6 663.2,128.4 661.1,127.2 659.1,126.1 657.1,124.9 655.1,123.8 653.1,122.6 651.1,121.5 649.1,120.4 647.1,119.3 645.1,118.2 643.1,117.2 641.1,116.1 639.1,115 637.1,114 635.1,112.9 633.1,111.9 631.1,110.8 629.1,109.8 627.1,108.8 625,107.9 623,107 621,106.1 619,105.3 617,104.6 615,103.9 613,103.4 611,102.9 609,102.4 607,102.1 605,101.8 603,101.5 601,101.3 599,101.2 597,101.1 595,101 593,100.9 590.9,100.9 588.9,101 586.9,101 584.9,101.1 582.9,101.3 580.9,101.5 578.9,101.7 576.9,102 574.9,102.3 572.9,102.7 570.9,103.2 568.9,103.8 566.9,104.4 564.9,105.1 562.9,105.9 560.9,106.8 558.9,107.6 556.8,108.6 554.8,109.6 552.8,110.6 550.8,111.6 548.8,112.6 546.8,113.7 544.8,114.8 542.8,115.8 540.8,116.9 538.8,118 536.8,119.1 534.8,120.1 532.8,121.2 530.8,122.4 528.8,123.5 526.8,124.6 524.8,125.8 522.8,126.9 520.7,128.1 518.7,129.3 516.7,130.5 514.7,131.8 512.7,133 510.7,134.3 508.7,135.6 506.7,137 504.7,138.3"/>
<polygon class="pl" fill="url(#g7)" points="516.7,133.2 518.7,131.8 520.7,130.6 522.8,129.6 524.8,128.7 526.8,128 528.8,127.4 530.8,126.9 532.8,126.6 534.8,126.2 536.8,126 538.8,125.8 540.8,125.6 542.8,125.5 544.8,125.4 546.8,125.4 548.8,125.4 550.8,125.5 552.8,125.7 554.8,126 556.8,126.4 558.9,126.8 560.9,127.4 562.9,128 564.9,128.7 566.9,129.5 568.9,130.5 570.9,131.5 572.9,132.5 574.9,133.7 574.9,134.7 572.9,133.5 570.9,132.5 568.9,131.5 566.9,130.5 564.9,129.7 562.9,129 560.9,128.4 558.9,127.8 556.8,127.4 554.8,127 552.8,126.7 550.8,126.5 548.8,126.4 546.8,126.4 544.8,126.4 542.8,126.5 540.8,126.6 538.8,126.8 536.8,127 534.8,127.2 532.8,127.6 530.8,127.9 528.8,128.4 526.8,129 524.8,129.7 522.8,130.6 520.7,131.6 518.7,132.8 516.7,134.2"/>
<polygon class="pl" fill="url(#g8)" points="608.5,133.7 610.5,132.5 612.5,131.5 614.5,130.5 616.5,129.5 618.5,128.7 620.5,128 622.5,127.4 624.5,126.8 626.6,126.4 628.6,126 630.6,125.7 632.6,125.5 634.6,125.4 636.6,125.4 638.6,125.4 640.6,125.5 642.6,125.6 644.6,125.8 646.6,126 648.6,126.2 650.6,126.6 652.6,126.9 654.6,127.4 656.6,128 658.6,128.7 660.6,129.6 662.7,130.6 664.7,131.8 666.7,133.2 666.7,134.2 664.7,132.8 662.7,131.6 660.6,130.6 658.6,129.7 656.6,129 654.6,128.4 652.6,127.9 650.6,127.6 648.6,127.2 646.6,127 644.6,126.8 642.6,126.6 640.6,126.5 638.6,126.4 636.6,126.4 634.6,126.4 632.6,126.5 630.6,126.7 628.6,127 626.6,127.4 624.5,127.8 622.5,128.4 620.5,129 618.5,129.7 616.5,130.5 614.5,131.5 612.5,132.5 610.5,133.5 608.5,134.7"/>
</g></g>
<rect x="677.2" y="43" width="1.5" height="131.1" fill="#363636"/>
<rect x="503.6" y="43" width="1.1" height="131.9" fill="#111"/>
<rect x="503.6" y="43" width="175.1" height="1.1" fill="#000"/>
<rect x="503.6" y="173.8" width="175.1" height="1.1" fill="#000"/>
<rect x="496.8" y="43.1" width="6.8" height="1.2" fill="#333"/>
<rect x="496.8" y="108" width="6.8" height="1.2" fill="#333"/>
<rect x="496.8" y="173.8" width="6.8" height="1.2" fill="#333"/>
<rect x="503.6" y="174.9" width="1.1" height="4.8" fill="#111"/>
<rect x="591.2" y="174.9" width="1.1" height="4.8" fill="#111"/>
<rect x="677" y="174.9" width="1.1" height="4.8" fill="#111"/>
<text class="k0" text-anchor="end" transform="translate(497 50.4)">0</text>
<text class="k" text-anchor="end" transform="translate(496.9 112.6) scale(1 1.16)">1.5</text>
<text class="k3" text-anchor="end" transform="translate(497.4 174.6) scale(1 1.05)">3.0</text>
<text class="kx" text-anchor="middle" transform="translate(505.4 190.7) scale(1 1.05)">0</text>
<text class="kx" text-anchor="middle" transform="translate(591.9 190.7) scale(1 1.05)">2</text>
<text class="kx" text-anchor="middle" transform="translate(676.4 190.7) scale(1 1.05)">4</text>
<text class="t" text-anchor="middle" transform="translate(592 209.1)">Distance (km)</text>
<text class="t" text-anchor="middle" transform="translate(475.9 107.5) rotate(-90)">Time (s)</text>
</g>
<g id="panel-d">
<rect x="50" y="241" width="173" height="131" fill="#505050"/>
<g clip-path="url(#cd)"><g filter="url(#rkd)" style="isolation:isolate">
<rect x="47" y="226" width="179" height="161" fill="#000"/>
<rect class="pl" x="53" y="288.87" width="2.5" height="1" fill="#790000"/><rect class="pl" x="59.6" y="289.26" width="2.5" height="1" fill="#790000"/><rect class="pl" x="66.2" y="290.13" width="2.5" height="1" fill="#790000"/><rect class="pl" x="72.8" y="291.45" width="2.5" height="1" fill="#790000"/><rect class="pl" x="79.4" y="293.18" width="2.5" height="1" fill="#790000"/><rect class="pl" x="86" y="295.28" width="2.5" height="1" fill="#790000"/><rect class="pl" x="92.6" y="297.72" width="2.5" height="1" fill="#790000"/><rect class="pl" x="99.3" y="300.45" width="2.5" height="1" fill="#790000"/><rect class="pl" x="105.9" y="303.42" width="2.5" height="1" fill="#790000"/><rect class="pl" x="112.5" y="306.59" width="2.5" height="1" fill="#790000"/><rect class="pl" x="119.1" y="309.91" width="2.5" height="1" fill="#790000"/><rect class="pl" x="125.7" y="313.32" width="2.5" height="1" fill="#790700"/><rect class="pl" x="132.3" y="316.79" width="2.5" height="1" fill="#791000"/><rect class="pl" x="138.9" y="320.24" width="2.5" height="1" fill="#791a00"/><rect class="pl" x="145.6" y="323.62" width="2.5" height="1" fill="#5f2400"/><rect class="pl" x="152.2" y="326.88" width="2.5" height="1" fill="#411700"/><rect class="pl" x="158.8" y="329.95" width="2.5" height="1" fill="#190900"/>
<rect class="pl" x="72.8" y="348.98" width="2.5" height="1" fill="#0a0000"/><rect class="pl" x="79.4" y="343.98" width="2.5" height="1" fill="#320000"/><rect class="pl" x="86" y="339.06" width="2.5" height="1" fill="#550000"/><rect class="pl" x="92.6" y="334.22" width="2.5" height="1" fill="#770000"/><rect class="pl" x="99.3" y="329.46" width="2.5" height="1" fill="#790000"/><rect class="pl" x="105.9" y="324.82" width="2.5" height="1" fill="#790000"/><rect class="pl" x="112.5" y="320.29" width="2.5" height="1" fill="#790000"/><rect class="pl" x="119.1" y="315.92" width="2.5" height="1" fill="#790000"/><rect class="pl" x="125.7" y="311.71" width="2.5" height="1" fill="#790000"/><rect class="pl" x="132.3" y="307.70" width="2.5" height="1" fill="#790000"/><rect class="pl" x="138.9" y="303.92" width="2.5" height="1" fill="#790000"/><rect class="pl" x="145.6" y="300.42" width="2.5" height="1" fill="#790000"/><rect class="pl" x="152.2" y="297.24" width="2.5" height="1" fill="#790000"/><rect class="pl" x="158.8" y="294.43" width="2.5" height="1" fill="#790000"/><rect class="pl" x="165.4" y="292.05" width="2.5" height="1" fill="#790000"/><rect class="pl" x="172" y="290.15" width="2.5" height="1" fill="#790000"/><rect class="pl" x="178.6" y="288.78" width="2.5" height="1" fill="#790000"/><rect class="pl" x="185.2" y="287.99" width="2.5" height="1" fill="#790000"/><rect class="pl" x="191.9" y="287.80" width="2.5" height="1" fill="#790000"/><rect class="pl" x="198.5" y="288.22" width="2.5" height="1" fill="#790000"/><rect class="pl" x="205.1" y="289.23" width="2.5" height="1" fill="#790000"/><rect class="pl" x="211.7" y="290.80" width="2.5" height="1" fill="#790000"/><rect class="pl" x="218.3" y="292.89" width="2.5" height="1" fill="#790000"/>
<rect class="pl" x="105.9" y="328.73" width="2.5" height="1" fill="#002300"/><rect class="pl" x="112.5" y="327.19" width="2.5" height="1" fill="#004900"/><rect class="pl" x="119.1" y="326.22" width="2.5" height="1" fill="#004900"/><rect class="pl" x="125.7" y="325.72" width="2.5" height="1" fill="#004900"/><rect class="pl" x="132.3" y="326.06" width="2.5" height="1" fill="#004900"/><rect class="pl" x="138.9" y="327.25" width="2.5" height="1" fill="#004900"/><rect class="pl" x="145.6" y="329.13" width="2.5" height="1" fill="#002d00"/><rect class="pl" x="152.2" y="331.78" width="2.5" height="1" fill="#000500"/>
</g></g>
<rect x="221.5" y="241" width="1.5" height="131" fill="#363636"/>
<rect x="48.9" y="241" width="1.1" height="131.8" fill="#111"/>
<rect x="48.9" y="241" width="174.1" height="1.1" fill="#000"/>
<rect x="48.9" y="371.7" width="174.1" height="1.1" fill="#000"/>
<rect x="42.1" y="241" width="6.8" height="1.2" fill="#333"/>
<rect x="42.1" y="305.9" width="6.8" height="1.2" fill="#333"/>
<rect x="42.1" y="371.7" width="6.8" height="1.2" fill="#333"/>
<rect x="49" y="372.8" width="1.1" height="4.8" fill="#111"/>
<rect x="135.9" y="372.8" width="1.1" height="4.8" fill="#111"/>
<rect x="221.2" y="372.8" width="1.1" height="4.8" fill="#111"/>
<text class="k0" text-anchor="end" transform="translate(42 248.1)">0</text>
<text class="k" text-anchor="end" transform="translate(42.1 310) scale(1 1.16)">1.5</text>
<text class="k3" text-anchor="end" transform="translate(43.5 372) scale(1 1.05)">3.0</text>
<text class="kx" text-anchor="middle" transform="translate(51 388.5) scale(1 1.05)">0</text>
<text class="kx" text-anchor="middle" transform="translate(137.5 388.1) scale(1 1.05)">2</text>
<text class="kx" text-anchor="middle" transform="translate(221.5 388.1) scale(1 1.05)">4</text>
<text class="t" text-anchor="middle" transform="translate(137.5 406.1)">Distance (km)</text>
<text class="t" text-anchor="middle" transform="translate(16.5 305.2) rotate(-90)">Time (s)</text>
</g>
<g id="panel-e">
<rect x="278.1" y="243" width="172.7" height="130.5" fill="#5a5a5a"/>
<g clip-path="url(#ce)"><g filter="url(#rke)" style="isolation:isolate">
<rect x="275.1" y="228" width="178.7" height="160.5" fill="#000"/>
<polygon class="pl" fill="url(#g9)" points="278.1,290.7 280.1,290.7 282.1,290.8 284.1,290.9 286.1,291 288.1,291.2 290,291.5 292,291.8 294,292.1 296,292.5 298,292.9 300,293.3 302,293.8 304,294.4 306,294.9 308,295.5 310,296.1 311.9,296.8 313.9,297.5 315.9,298.2 317.9,298.9 319.9,299.7 321.9,300.5 323.9,301.3 325.9,302.2 327.9,303 329.9,303.9 331.9,304.8 333.8,305.7 335.8,306.7 337.8,307.6 339.8,308.6 341.8,309.6 343.8,310.6 345.8,311.6 347.8,312.6 349.8,313.7 351.8,314.7 353.7,315.7 355.7,316.8 357.7,317.8 359.7,318.8 361.7,319.9 363.7,320.9 365.7,322 367.7,323 369.7,324 371.7,325 373.7,326 375.6,327 377.6,328 379.6,328.9 381.6,329.9 383.6,330.8 385.6,331.7 387.6,332.5 389.6,333.4 389.6,334.4 387.6,333.5 385.6,332.7 383.6,331.8 381.6,330.9 379.6,329.9 377.6,329 375.6,328 373.7,327 371.7,326 369.7,325 367.7,324 365.7,323 363.7,321.9 361.7,320.9 359.7,319.8 357.7,318.8 355.7,317.8 353.7,316.7 351.8,315.7 349.8,314.7 347.8,313.6 345.8,312.6 343.8,311.6 341.8,310.6 339.8,309.6 337.8,308.6 335.8,307.7 333.8,306.7 331.9,305.8 329.9,304.9 327.9,304 325.9,303.2 323.9,302.3 321.9,301.5 319.9,300.7 317.9,299.9 315.9,299.2 313.9,298.5 311.9,297.8 310,297.1 308,296.5 306,295.9 304,295.4 302,294.8 300,294.3 298,293.9 296,293.5 294,293.1 292,292.8 290,292.5 288.1,292.2 286.1,292 284.1,291.9 282.1,291.8 280.1,291.7 278.1,291.7"/>
<polygon class="pl" fill="url(#g10)" points="298,351.8 300,350.3 302,348.8 304,347.3 306,345.8 308,344.3 310,342.8 311.9,341.3 313.9,339.9 315.9,338.4 317.9,337 319.9,335.5 321.9,334.1 323.9,332.6 325.9,331.2 327.9,329.8 329.9,328.4 331.9,327 333.8,325.7 335.8,324.3 337.8,322.9 339.8,321.6 341.8,320.3 343.8,319 345.8,317.7 347.8,316.4 349.8,315.1 351.8,313.9 353.7,312.6 355.7,311.4 357.7,310.2 359.7,309 361.7,307.9 363.7,306.8 365.7,305.7 367.7,304.6 369.7,303.5 371.7,302.5 373.7,301.5 375.6,300.5 377.6,299.6 379.6,298.7 381.6,297.8 383.6,297 385.6,296.2 387.6,295.4 389.6,294.7 391.6,294 393.6,293.4 395.6,292.8 397.5,292.2 399.5,291.7 401.5,291.3 403.5,290.9 405.5,290.6 407.5,290.3 409.5,290 411.5,289.8 413.5,289.7 415.5,289.6 417.5,289.6 419.4,289.6 421.4,289.7 423.4,289.9 425.4,290.1 427.4,290.3 429.4,290.6 431.4,291 433.4,291.4 435.4,291.9 437.4,292.4 439.4,292.9 441.3,293.5 443.3,294.2 445.3,294.8 447.3,295.6 449.3,296.3 450.8,296.9 450.8,297.9 449.3,297.3 447.3,296.6 445.3,295.8 443.3,295.2 441.3,294.5 439.4,293.9 437.4,293.4 435.4,292.9 433.4,292.4 431.4,292 429.4,291.6 427.4,291.3 425.4,291.1 423.4,290.9 421.4,290.7 419.4,290.6 417.5,290.6 415.5,290.6 413.5,290.7 411.5,290.8 409.5,291 407.5,291.3 405.5,291.6 403.5,291.9 401.5,292.3 399.5,292.7 397.5,293.2 395.6,293.8 393.6,294.4 391.6,295 389.6,295.7 387.6,296.4 385.6,297.2 383.6,298 381.6,298.8 379.6,299.7 377.6,300.6 375.6,301.5 373.7,302.5 371.7,303.5 369.7,304.5 367.7,305.6 365.7,306.7 363.7,307.8 361.7,308.9 359.7,310 357.7,311.2 355.7,312.4 353.7,313.6 351.8,314.9 349.8,316.1 347.8,317.4 345.8,318.7 343.8,320 341.8,321.3 339.8,322.6 337.8,323.9 335.8,325.3 333.8,326.7 331.9,328 329.9,329.4 327.9,330.8 325.9,332.2 323.9,333.6 321.9,335.1 319.9,336.5 317.9,338 315.9,339.4 313.9,340.9 311.9,342.3 310,343.8 308,345.3 306,346.8 304,348.3 302,349.8 300,351.3 298,352.8"/>
<polygon class="pl" fill="url(#g11)" points="327.9,332 329.9,331.3 331.9,330.6 333.8,330.1 335.8,329.6 337.8,329.1 339.8,328.8 341.8,328.4 343.8,328.1 345.8,327.9 347.8,327.7 349.8,327.5 351.8,327.4 353.7,327.4 355.7,327.4 357.7,327.6 359.7,327.8 361.7,328.1 363.7,328.5 365.7,328.9 367.7,329.4 369.7,330 371.7,330.6 373.7,331.3 375.6,332 377.6,332.9 379.6,333.8 379.6,334.8 377.6,333.9 375.6,333 373.7,332.3 371.7,331.6 369.7,331 367.7,330.4 365.7,329.9 363.7,329.5 361.7,329.1 359.7,328.8 357.7,328.6 355.7,328.4 353.7,328.4 351.8,328.4 349.8,328.5 347.8,328.7 345.8,328.9 343.8,329.1 341.8,329.4 339.8,329.8 337.8,330.1 335.8,330.6 333.8,331.1 331.9,331.6 329.9,332.3 327.9,333"/>
</g></g>
<rect x="449.3" y="243" width="1.5" height="130.5" fill="#363636"/>
<rect x="277" y="243" width="1.1" height="131.3" fill="#111"/>
<rect x="277" y="243" width="173.8" height="1.1" fill="#000"/>
<rect x="277" y="373.2" width="173.8" height="1.1" fill="#000"/>
<rect x="270.2" y="243" width="6.8" height="1.2" fill="#333"/>
<rect x="270.2" y="307.7" width="6.8" height="1.2" fill="#333"/>
<rect x="270.2" y="373.2" width="6.8" height="1.2" fill="#333"/>
<rect x="277.1" y="374.3" width="1.1" height="4.8" fill="#111"/>
<rect x="363.9" y="374.3" width="1.1" height="4.8" fill="#111"/>
<rect x="449.1" y="374.3" width="1.1" height="4.8" fill="#111"/>
<text class="k0" text-anchor="end" transform="translate(269 248.7)">0</text>
<text class="k" text-anchor="end" transform="translate(272.6 313.8) scale(1 1.16)">1.5</text>
<text class="k3" text-anchor="end" transform="translate(270.4 379) scale(1 1.05)">3.0</text>
<text class="kx" text-anchor="middle" transform="translate(277.7 390.9) scale(1 1.05)">0</text>
<text class="kx" text-anchor="middle" transform="translate(364.1 390.9) scale(1 1.05)">2</text>
<text class="kx" text-anchor="middle" transform="translate(451.3 390.9) scale(1 1.05)">4</text>
<text class="t" text-anchor="middle" transform="translate(364.1 409.1)">Distance (km)</text>
<text class="t" text-anchor="middle" transform="translate(247.7 309.4) rotate(-90)">Time (s)</text>
</g>
<g id="panel-f">
<rect x="507.1" y="245" width="172.7" height="130.7" fill="#5a5a5a"/>
<g clip-path="url(#cf)"><g filter="url(#rkf)" style="isolation:isolate">
<rect x="504.1" y="230" width="178.7" height="160.7" fill="#000"/>
<polygon class="pl" fill="url(#g12)" points="507.1,292.7 509.1,292.8 511.1,292.8 513.1,293 515.1,293.1 517.1,293.3 519,293.6 521,293.9 523,294.2 525,294.6 527,295 529,295.4 531,295.9 533,296.4 535,297 537,297.6 539,298.2 540.9,298.9 542.9,299.5 544.9,300.3 546.9,301 548.9,301.8 550.9,302.6 552.9,303.4 554.9,304.2 556.9,305.1 558.9,306 560.9,306.9 562.8,307.8 564.8,308.8 566.8,309.7 568.8,310.7 570.8,311.7 572.8,312.7 574.8,313.7 576.8,314.7 578.8,315.8 580.8,316.8 582.7,317.8 584.7,318.9 586.7,319.9 588.7,321 590.7,322 592.7,323 594.7,324.1 596.7,325.1 598.7,326.1 600.7,327.1 602.7,328.1 604.6,329.1 606.6,330.1 608.6,331.1 610.6,332 612.6,332.9 614.6,333.8 616.6,334.7 618.6,335.5 618.6,336.5 616.6,335.7 614.6,334.8 612.6,333.9 610.6,333 608.6,332.1 606.6,331.1 604.6,330.1 602.7,329.1 600.7,328.1 598.7,327.1 596.7,326.1 594.7,325.1 592.7,324 590.7,323 588.7,322 586.7,320.9 584.7,319.9 582.7,318.8 580.8,317.8 578.8,316.8 576.8,315.7 574.8,314.7 572.8,313.7 570.8,312.7 568.8,311.7 566.8,310.7 564.8,309.8 562.8,308.8 560.9,307.9 558.9,307 556.9,306.1 554.9,305.2 552.9,304.4 550.9,303.6 548.9,302.8 546.9,302 544.9,301.3 542.9,300.5 540.9,299.9 539,299.2 537,298.6 535,298 533,297.4 531,296.9 529,296.4 527,296 525,295.6 523,295.2 521,294.9 519,294.6 517.1,294.3 515.1,294.1 513.1,294 511.1,293.8 509.1,293.8 507.1,293.7"/>
<polygon class="pl" fill="url(#g13)" points="527,353.9 529,352.4 531,350.9 533,349.4 535,347.9 537,346.4 539,345 540.9,343.5 542.9,342 544.9,340.6 546.9,339.1 548.9,337.7 550.9,336.2 552.9,334.8 554.9,333.4 556.9,332 558.9,330.6 560.9,329.2 562.8,327.8 564.8,326.4 566.8,325.1 568.8,323.7 570.8,322.4 572.8,321.1 574.8,319.8 576.8,318.5 578.8,317.2 580.8,316 582.7,314.7 584.7,313.5 586.7,312.3 588.7,311.1 590.7,310 592.7,308.9 594.7,307.8 596.7,306.7 598.7,305.6 600.7,304.6 602.7,303.6 604.6,302.6 606.6,301.7 608.6,300.8 610.6,299.9 612.6,299 614.6,298.2 616.6,297.5 618.6,296.8 620.6,296.1 622.6,295.5 624.6,294.9 626.5,294.3 628.5,293.8 630.5,293.4 632.5,293 634.5,292.6 636.5,292.3 638.5,292.1 640.5,291.9 642.5,291.8 644.5,291.7 646.5,291.7 648.4,291.7 650.4,291.8 652.4,291.9 654.4,292.1 656.4,292.4 658.4,292.7 660.4,293.1 662.4,293.5 664.4,293.9 666.4,294.4 668.4,295 670.3,295.6 672.3,296.2 674.3,296.9 676.3,297.7 678.3,298.4 679.8,299 679.8,300 678.3,299.4 676.3,298.7 674.3,297.9 672.3,297.2 670.3,296.6 668.4,296 666.4,295.4 664.4,294.9 662.4,294.5 660.4,294.1 658.4,293.7 656.4,293.4 654.4,293.1 652.4,292.9 650.4,292.8 648.4,292.7 646.5,292.7 644.5,292.7 642.5,292.8 640.5,292.9 638.5,293.1 636.5,293.3 634.5,293.6 632.5,294 630.5,294.4 628.5,294.8 626.5,295.3 624.6,295.9 622.6,296.5 620.6,297.1 618.6,297.8 616.6,298.5 614.6,299.2 612.6,300 610.6,300.9 608.6,301.8 606.6,302.7 604.6,303.6 602.7,304.6 600.7,305.6 598.7,306.6 596.7,307.7 594.7,308.8 592.7,309.9 590.7,311 588.7,312.1 586.7,313.3 584.7,314.5 582.7,315.7 580.8,317 578.8,318.2 576.8,319.5 574.8,320.8 572.8,322.1 570.8,323.4 568.8,324.7 566.8,326.1 564.8,327.4 562.8,328.8 560.9,330.2 558.9,331.6 556.9,333 554.9,334.4 552.9,335.8 550.9,337.2 548.9,338.7 546.9,340.1 544.9,341.6 542.9,343 540.9,344.5 539,346 537,347.4 535,348.9 533,350.4 531,351.9 529,353.4 527,354.9"/>
<polygon class="pl" fill="url(#g14)" points="556.9,334.1 558.9,333.4 560.9,332.8 562.8,332.2 564.8,331.7 566.8,331.3 568.8,330.9 570.8,330.6 572.8,330.3 574.8,330 576.8,329.8 578.8,329.7 580.8,329.5 582.7,329.5 584.7,329.6 586.7,329.7 588.7,330 590.7,330.3 592.7,330.6 594.7,331.1 596.7,331.6 598.7,332.1 600.7,332.7 602.7,333.4 604.6,334.2 606.6,335 608.6,335.9 608.6,336.9 606.6,336 604.6,335.2 602.7,334.4 600.7,333.7 598.7,333.1 596.7,332.6 594.7,332.1 592.7,331.6 590.7,331.3 588.7,331 586.7,330.7 584.7,330.6 582.7,330.5 580.8,330.5 578.8,330.7 576.8,330.8 574.8,331 572.8,331.3 570.8,331.6 568.8,331.9 566.8,332.3 564.8,332.7 562.8,333.2 560.9,333.8 558.9,334.4 556.9,335.1"/>
</g></g>
<rect x="678.3" y="245" width="1.5" height="130.7" fill="#363636"/>
<rect x="506" y="245" width="1.1" height="131.5" fill="#111"/>
<rect x="506" y="245" width="173.8" height="1.1" fill="#000"/>
<rect x="506" y="375.4" width="173.8" height="1.1" fill="#000"/>
<rect x="499.2" y="245" width="6.8" height="1.2" fill="#333"/>
<rect x="499.2" y="309.8" width="6.8" height="1.2" fill="#333"/>
<rect x="499.2" y="375.4" width="6.8" height="1.2" fill="#333"/>
<rect x="506.1" y="376.5" width="1.1" height="4.8" fill="#111"/>
<rect x="592.9" y="376.5" width="1.1" height="4.8" fill="#111"/>
<rect x="678" y="376.5" width="1.1" height="4.8" fill="#111"/>
<text class="k0" text-anchor="end" transform="translate(497.7 252.5)">0</text>
<text class="k" text-anchor="end" transform="translate(498.2 314.1) scale(1 1.16)">1.5</text>
<text class="k3" text-anchor="end" transform="translate(499.4 376.5) scale(1 1.05)">3.0</text>
<text class="kx" text-anchor="middle" transform="translate(506.4 392.4) scale(1 1.05)">0</text>
<text class="kx" text-anchor="middle" transform="translate(593.1 392.4) scale(1 1.05)">2</text>
<text class="kx" text-anchor="middle" transform="translate(677.3 392.4) scale(1 1.05)">4</text>
<text class="t" text-anchor="middle" transform="translate(592.8 409.3)">Distance (km)</text>
<text class="t" text-anchor="middle" transform="translate(475.9 310) rotate(-90)">Time (s)</text>
</g>
<g id="panel-g">
<rect x="52.1" y="441.7" width="172.6" height="130.9" fill="#5a5a5a"/>
<g clip-path="url(#cg)"><g filter="url(#rkg)" style="isolation:isolate">
<rect x="49.1" y="426.7" width="178.6" height="160.9" fill="#000"/>
<rect class="pl" x="54.4" y="497.33" width="2.5" height="1" fill="#790000"/><rect class="pl" x="61" y="498.51" width="2.5" height="1" fill="#790000"/><rect class="pl" x="67.6" y="500.41" width="2.5" height="1" fill="#790000"/><rect class="pl" x="74.2" y="502.58" width="2.5" height="1" fill="#790000"/><rect class="pl" x="80.8" y="504.79" width="2.5" height="1" fill="#790000"/><rect class="pl" x="87.4" y="507.49" width="2.5" height="1" fill="#790000"/><rect class="pl" x="94" y="511.14" width="2.5" height="1" fill="#790000"/><rect class="pl" x="100.7" y="515.36" width="2.5" height="1" fill="#790500"/><rect class="pl" x="107.3" y="519.39" width="2.5" height="1" fill="#790c00"/><rect class="pl" x="113.9" y="523.04" width="2.5" height="1" fill="#791300"/><rect class="pl" x="120.5" y="526.56" width="2.5" height="1" fill="#791900"/><rect class="pl" x="127.1" y="530.23" width="2.5" height="1" fill="#792000"/><rect class="pl" x="133.7" y="534.27" width="2.5" height="1" fill="#792700"/>
<rect class="pl" x="140.3" y="534.41" width="2.5" height="1" fill="#792700"/><rect class="pl" x="147" y="530.36" width="2.5" height="1" fill="#792000"/><rect class="pl" x="153.6" y="526.68" width="2.5" height="1" fill="#791a00"/><rect class="pl" x="160.2" y="523.16" width="2.5" height="1" fill="#791300"/><rect class="pl" x="166.8" y="519.52" width="2.5" height="1" fill="#790c00"/><rect class="pl" x="173.4" y="515.50" width="2.5" height="1" fill="#790500"/><rect class="pl" x="180" y="511.28" width="2.5" height="1" fill="#790000"/><rect class="pl" x="186.7" y="507.60" width="2.5" height="1" fill="#790000"/><rect class="pl" x="193.3" y="504.87" width="2.5" height="1" fill="#790000"/><rect class="pl" x="199.9" y="502.65" width="2.5" height="1" fill="#790000"/><rect class="pl" x="206.5" y="500.49" width="2.5" height="1" fill="#790000"/><rect class="pl" x="213.1" y="498.56" width="2.5" height="1" fill="#790000"/><rect class="pl" x="219.7" y="497.35" width="2.5" height="1" fill="#790000"/>
<rect class="pl" x="80.8" y="526.28" width="2.5" height="1" fill="#322e00"/><rect class="pl" x="87.4" y="524.39" width="2.5" height="1" fill="#6e3d00"/><rect class="pl" x="94" y="522.59" width="2.5" height="1" fill="#793d00"/><rect class="pl" x="100.7" y="520.90" width="2.5" height="1" fill="#793c00"/><rect class="pl" x="107.3" y="519.35" width="2.5" height="1" fill="#791400"/><rect class="pl" x="113.9" y="517.99" width="2.5" height="1" fill="#790000"/><rect class="pl" x="120.5" y="516.88" width="2.5" height="1" fill="#790000"/><rect class="pl" x="127.1" y="516.08" width="2.5" height="1" fill="#790000"/><rect class="pl" x="133.7" y="515.66" width="2.5" height="1" fill="#790000"/><rect class="pl" x="140.3" y="515.65" width="2.5" height="1" fill="#790000"/><rect class="pl" x="147" y="516.06" width="2.5" height="1" fill="#790000"/><rect class="pl" x="153.6" y="516.85" width="2.5" height="1" fill="#790000"/><rect class="pl" x="160.2" y="517.95" width="2.5" height="1" fill="#790000"/><rect class="pl" x="166.8" y="519.30" width="2.5" height="1" fill="#791300"/><rect class="pl" x="173.4" y="520.84" width="2.5" height="1" fill="#793b00"/><rect class="pl" x="180" y="522.53" width="2.5" height="1" fill="#793d00"/><rect class="pl" x="186.7" y="524.33" width="2.5" height="1" fill="#703d00"/><rect class="pl" x="193.3" y="526.21" width="2.5" height="1" fill="#343000"/>
</g></g>
<rect x="223.2" y="441.7" width="1.5" height="130.9" fill="#363636"/>
<rect x="51" y="441.7" width="1.1" height="131.7" fill="#111"/>
<rect x="51" y="441.7" width="173.7" height="1.1" fill="#000"/>
<rect x="51" y="572.3" width="173.7" height="1.1" fill="#000"/>
<rect x="44.2" y="441.8" width="6.8" height="1.2" fill="#333"/>
<rect x="44.2" y="506.6" width="6.8" height="1.2" fill="#333"/>
<rect x="44.2" y="572.3" width="6.8" height="1.2" fill="#333"/>
<rect x="51.1" y="573.4" width="1.1" height="4.8" fill="#111"/>
<rect x="137.8" y="573.4" width="1.1" height="4.8" fill="#111"/>
<rect x="222.9" y="573.4" width="1.1" height="4.8" fill="#111"/>
<text class="k0" text-anchor="end" transform="translate(43 448.7)">0</text>
<text class="k" text-anchor="end" transform="translate(43.7 510.2) scale(1 1.16)">1.5</text>
<text class="k3" text-anchor="end" transform="translate(45 572.6) scale(1 1.05)">3.0</text>
<text class="kx" text-anchor="middle" transform="translate(51.9 589.1) scale(1 1.05)">0</text>
<text class="kx" text-anchor="middle" transform="translate(138 589.1) scale(1 1.05)">2</text>
<text class="kx" text-anchor="middle" transform="translate(222.5 589.1) scale(1 1.05)">4</text>
<text class="t" text-anchor="middle" transform="translate(138 606.8)">Distance (km)</text>
<text class="t" text-anchor="middle" transform="translate(19.7 506.3) rotate(-90)">Time (s)</text>
</g>
<g id="panel-h">
<rect x="279.7" y="443.7" width="172.3" height="131" fill="#5a5a5a"/>
<g clip-path="url(#ch)"><g filter="url(#rkh)" style="isolation:isolate">
<rect x="276.7" y="428.7" width="178.3" height="161" fill="#000"/>
<polygon class="pl" fill="url(#g15)" points="279.7,499.2 281.7,499.3 283.7,499.4 285.7,499.7 287.6,500.1 289.6,500.5 291.6,501.1 293.6,501.7 295.6,502.4 297.6,503.1 299.6,503.9 301.5,504.7 303.5,505.6 305.5,506.5 307.5,507.4 309.5,508.4 311.5,509.4 313.5,510.3 315.5,511.3 317.4,512.3 319.4,513.4 321.4,514.4 323.4,515.4 325.4,516.4 327.4,517.4 329.4,518.4 331.3,519.4 333.3,520.5 335.3,521.5 337.3,522.5 339.3,523.5 341.3,524.5 343.3,525.5 345.2,526.5 347.2,527.6 349.2,528.6 351.2,529.7 353.2,530.8 355.2,531.9 357.2,533.1 359.1,534.3 361.1,535.5 363.1,536.8 365.1,538.1 365.9,538.6 365.9,539.6 365.1,539.1 363.1,537.8 361.1,536.5 359.1,535.3 357.2,534.1 355.2,532.9 353.2,531.8 351.2,530.7 349.2,529.6 347.2,528.6 345.2,527.5 343.3,526.5 341.3,525.5 339.3,524.5 337.3,523.5 335.3,522.5 333.3,521.5 331.3,520.4 329.4,519.4 327.4,518.4 325.4,517.4 323.4,516.4 321.4,515.4 319.4,514.4 317.4,513.3 315.5,512.3 313.5,511.3 311.5,510.4 309.5,509.4 307.5,508.4 305.5,507.5 303.5,506.6 301.5,505.7 299.6,504.9 297.6,504.1 295.6,503.4 293.6,502.7 291.6,502.1 289.6,501.5 287.6,501.1 285.7,500.7 283.7,500.4 281.7,500.3 279.7,500.2"/>
<polygon class="pl" fill="url(#g16)" points="365.9,538.6 367.8,537.3 369.8,536 371.8,534.7 373.8,533.5 375.8,532.3 377.8,531.2 379.8,530.1 381.7,529 383.7,528 385.7,526.9 387.7,525.9 389.7,524.9 391.7,523.9 393.7,522.8 395.6,521.8 397.6,520.8 399.6,519.8 401.6,518.8 403.6,517.8 405.6,516.8 407.6,515.8 409.5,514.8 411.5,513.7 413.5,512.7 415.5,511.7 417.5,510.7 419.5,509.7 421.5,508.8 423.4,507.8 425.4,506.9 427.4,505.9 429.4,505.1 431.4,504.2 433.4,503.4 435.4,502.7 437.4,502 439.3,501.3 441.3,500.7 443.3,500.2 445.3,499.8 447.3,499.5 449.3,499.3 451.3,499.2 452,499.2 452,500.2 451.3,500.2 449.3,500.3 447.3,500.5 445.3,500.8 443.3,501.2 441.3,501.7 439.3,502.3 437.4,503 435.4,503.7 433.4,504.4 431.4,505.2 429.4,506.1 427.4,506.9 425.4,507.9 423.4,508.8 421.5,509.8 419.5,510.7 417.5,511.7 415.5,512.7 413.5,513.7 411.5,514.7 409.5,515.8 407.6,516.8 405.6,517.8 403.6,518.8 401.6,519.8 399.6,520.8 397.6,521.8 395.6,522.8 393.7,523.8 391.7,524.9 389.7,525.9 387.7,526.9 385.7,527.9 383.7,529 381.7,530 379.8,531.1 377.8,532.2 375.8,533.3 373.8,534.5 371.8,535.7 369.8,537 367.8,538.3 365.9,539.6"/>
<polygon class="pl" fill="url(#g17)" points="303.5,530.1 305.5,529.5 307.5,529 309.5,528.4 311.5,527.8 313.5,527.2 315.5,526.7 317.4,526.1 319.4,525.6 321.4,525 323.4,524.5 325.4,524 327.4,523.5 329.4,523 331.3,522.5 333.3,522 335.3,521.6 337.3,521.1 339.3,520.7 341.3,520.3 343.3,519.9 345.2,519.6 347.2,519.2 349.2,518.9 351.2,518.7 353.2,518.4 355.2,518.2 357.2,518 359.1,517.9 361.1,517.8 363.1,517.7 365.1,517.7 367.1,517.7 369.1,517.7 371.1,517.8 373,517.9 375,518.1 377,518.3 379,518.5 381,518.7 383,519 385,519.3 387,519.7 388.9,520 390.9,520.4 392.9,520.8 394.9,521.2 396.9,521.7 398.9,522.1 400.9,522.6 402.8,523.1 404.8,523.6 406.8,524.1 408.8,524.6 410.8,525.2 412.8,525.7 414.8,526.3 416.7,526.8 418.7,527.4 420.7,527.9 422.7,528.5 424.7,529.1 426.7,529.7 428.2,530.1 428.2,531.1 426.7,530.7 424.7,530.1 422.7,529.5 420.7,528.9 418.7,528.4 416.7,527.8 414.8,527.3 412.8,526.7 410.8,526.2 408.8,525.6 406.8,525.1 404.8,524.6 402.8,524.1 400.9,523.6 398.9,523.1 396.9,522.7 394.9,522.2 392.9,521.8 390.9,521.4 388.9,521 387,520.7 385,520.3 383,520 381,519.7 379,519.5 377,519.3 375,519.1 373,518.9 371.1,518.8 369.1,518.7 367.1,518.7 365.1,518.7 363.1,518.7 361.1,518.8 359.1,518.9 357.2,519 355.2,519.2 353.2,519.4 351.2,519.7 349.2,519.9 347.2,520.2 345.2,520.6 343.3,520.9 341.3,521.3 339.3,521.7 337.3,522.1 335.3,522.6 333.3,523 331.3,523.5 329.4,524 327.4,524.5 325.4,525 323.4,525.5 321.4,526 319.4,526.6 317.4,527.1 315.5,527.7 313.5,528.2 311.5,528.8 309.5,529.4 307.5,530 305.5,530.5 303.5,531.1"/>
</g></g>
<rect x="450.5" y="443.7" width="1.5" height="131" fill="#363636"/>
<rect x="278.6" y="443.7" width="1.1" height="131.8" fill="#111"/>
<rect x="278.6" y="443.7" width="173.4" height="1.1" fill="#000"/>
<rect x="278.6" y="574.4" width="173.4" height="1.1" fill="#000"/>
<rect x="271.8" y="443.8" width="6.8" height="1.2" fill="#333"/>
<rect x="271.8" y="508.7" width="6.8" height="1.2" fill="#333"/>
<rect x="271.8" y="574.4" width="6.8" height="1.2" fill="#333"/>
<rect x="278.6" y="575.5" width="1.1" height="4.8" fill="#111"/>
<rect x="365.3" y="575.5" width="1.1" height="4.8" fill="#111"/>
<rect x="450.2" y="575.5" width="1.1" height="4.8" fill="#111"/>
<text class="k0" text-anchor="end" transform="translate(271 449)">0</text>
<text class="k" text-anchor="end" transform="translate(274.4 514.7) scale(1 1.16)">1.5</text>
<text class="k3" text-anchor="end" transform="translate(271.8 579.7) scale(1 1.05)">3.0</text>
<text class="kx" text-anchor="middle" transform="translate(279.3 592.2) scale(1 1.05)">0</text>
<text class="kx" text-anchor="middle" transform="translate(365.2 592.2) scale(1 1.05)">2</text>
<text class="kx" text-anchor="middle" transform="translate(452.5 592.2) scale(1 1.05)">4</text>
<text class="t" text-anchor="middle" transform="translate(365.5 609.7)">Distance (km)</text>
<text class="t" text-anchor="middle" transform="translate(250.4 510.4) rotate(-90)">Time (s)</text>
</g>
<g id="panel-i">
<rect x="508.1" y="445.6" width="172.5" height="130.8" fill="#5a5a5a"/>
<g clip-path="url(#ci)"><g filter="url(#rki)" style="isolation:isolate">
<rect x="505.1" y="430.6" width="178.5" height="160.8" fill="#000"/>
<polygon class="pl" fill="url(#g18)" points="508.1,501 510.1,501.1 512.1,501.2 514.1,501.5 516.1,501.9 518,502.4 520,502.9 522,503.5 524,504.2 526,504.9 528,505.7 530,506.5 532,507.4 534,508.3 535.9,509.2 537.9,510.2 539.9,511.2 541.9,512.1 543.9,513.1 545.9,514.1 547.9,515.1 549.9,516.2 551.8,517.2 553.8,518.2 555.8,519.2 557.8,520.2 559.8,521.2 561.8,522.2 563.8,523.2 565.8,524.2 567.8,525.3 569.7,526.3 571.7,527.3 573.7,528.3 575.7,529.4 577.7,530.4 579.7,531.5 581.7,532.6 583.7,533.7 585.7,534.8 587.6,536 589.6,537.3 591.6,538.5 593.6,539.9 594.4,540.4 594.4,541.4 593.6,540.9 591.6,539.5 589.6,538.3 587.6,537 585.7,535.8 583.7,534.7 581.7,533.6 579.7,532.5 577.7,531.4 575.7,530.4 573.7,529.3 571.7,528.3 569.7,527.3 567.8,526.3 565.8,525.2 563.8,524.2 561.8,523.2 559.8,522.2 557.8,521.2 555.8,520.2 553.8,519.2 551.8,518.2 549.9,517.2 547.9,516.1 545.9,515.1 543.9,514.1 541.9,513.1 539.9,512.2 537.9,511.2 535.9,510.2 534,509.3 532,508.4 530,507.5 528,506.7 526,505.9 524,505.2 522,504.5 520,503.9 518,503.4 516.1,502.9 514.1,502.5 512.1,502.2 510.1,502.1 508.1,502"/>
<polygon class="pl" fill="url(#g19)" points="594.4,540.4 596.3,539 598.3,537.7 600.3,536.5 602.3,535.3 604.3,534.1 606.3,533 608.3,531.9 610.3,530.8 612.2,529.7 614.2,528.7 616.2,527.7 618.2,526.7 620.2,525.6 622.2,524.6 624.2,523.6 626.2,522.6 628.2,521.6 630.1,520.6 632.1,519.6 634.1,518.6 636.1,517.6 638.1,516.5 640.1,515.5 642.1,514.5 644.1,513.5 646.1,512.5 648,511.5 650,510.6 652,509.6 654,508.7 656,507.7 658,506.9 660,506 662,505.2 663.9,504.5 665.9,503.8 667.9,503.1 669.9,502.6 671.9,502.1 673.9,501.7 675.9,501.3 677.9,501.1 679.9,501 680.6,501 680.6,502 679.9,502 677.9,502.1 675.9,502.3 673.9,502.7 671.9,503.1 669.9,503.6 667.9,504.1 665.9,504.8 663.9,505.5 662,506.2 660,507 658,507.9 656,508.7 654,509.7 652,510.6 650,511.6 648,512.5 646.1,513.5 644.1,514.5 642.1,515.5 640.1,516.5 638.1,517.5 636.1,518.6 634.1,519.6 632.1,520.6 630.1,521.6 628.2,522.6 626.2,523.6 624.2,524.6 622.2,525.6 620.2,526.6 618.2,527.7 616.2,528.7 614.2,529.7 612.2,530.7 610.3,531.8 608.3,532.9 606.3,534 604.3,535.1 602.3,536.3 600.3,537.5 598.3,538.7 596.3,540 594.4,541.4"/>
<polygon class="pl" fill="url(#g20)" points="532,531.9 534,531.3 535.9,530.7 537.9,530.1 539.9,529.6 541.9,529 543.9,528.4 545.9,527.9 547.9,527.3 549.9,526.8 551.8,526.3 553.8,525.8 555.8,525.2 557.8,524.8 559.8,524.3 561.8,523.8 563.8,523.3 565.8,522.9 567.8,522.5 569.7,522.1 571.7,521.7 573.7,521.4 575.7,521 577.7,520.7 579.7,520.4 581.7,520.2 583.7,520 585.7,519.8 587.6,519.7 589.6,519.6 591.6,519.5 593.6,519.4 595.6,519.5 597.6,519.5 599.6,519.6 601.6,519.7 603.5,519.8 605.5,520 607.5,520.3 609.5,520.5 611.5,520.8 613.5,521.1 615.5,521.4 617.5,521.8 619.5,522.2 621.4,522.6 623.4,523 625.4,523.5 627.4,523.9 629.4,524.4 631.4,524.9 633.4,525.4 635.4,525.9 637.4,526.4 639.3,526.9 641.3,527.5 643.3,528 645.3,528.6 647.3,529.1 649.3,529.7 651.3,530.3 653.3,530.9 655.2,531.5 656.7,531.9 656.7,532.9 655.2,532.5 653.3,531.9 651.3,531.3 649.3,530.7 647.3,530.1 645.3,529.6 643.3,529 641.3,528.5 639.3,527.9 637.4,527.4 635.4,526.9 633.4,526.4 631.4,525.9 629.4,525.4 627.4,524.9 625.4,524.5 623.4,524 621.4,523.6 619.5,523.2 617.5,522.8 615.5,522.4 613.5,522.1 611.5,521.8 609.5,521.5 607.5,521.3 605.5,521 603.5,520.8 601.6,520.7 599.6,520.6 597.6,520.5 595.6,520.5 593.6,520.4 591.6,520.5 589.6,520.6 587.6,520.7 585.7,520.8 583.7,521 581.7,521.2 579.7,521.4 577.7,521.7 575.7,522 573.7,522.4 571.7,522.7 569.7,523.1 567.8,523.5 565.8,523.9 563.8,524.3 561.8,524.8 559.8,525.3 557.8,525.8 555.8,526.2 553.8,526.8 551.8,527.3 549.9,527.8 547.9,528.3 545.9,528.9 543.9,529.4 541.9,530 539.9,530.6 537.9,531.1 535.9,531.7 534,532.3 532,532.9"/>
</g></g>
<rect x="679.1" y="445.6" width="1.5" height="130.8" fill="#363636"/>
<rect x="507" y="445.6" width="1.1" height="131.6" fill="#111"/>
<rect x="507" y="445.6" width="173.6" height="1.1" fill="#000"/>
<rect x="507" y="576.1" width="173.6" height="1.1" fill="#000"/>
<rect x="500.2" y="445.7" width="6.8" height="1.2" fill="#333"/>
<rect x="500.2" y="510.4" width="6.8" height="1.2" fill="#333"/>
<rect x="500.2" y="576.1" width="6.8" height="1.2" fill="#333"/>
<rect x="507.1" y="577.2" width="1.1" height="4.8" fill="#111"/>
<rect x="593.8" y="577.2" width="1.1" height="4.8" fill="#111"/>
<rect x="678.9" y="577.2" width="1.1" height="4.8" fill="#111"/>
<text class="k0" text-anchor="end" transform="translate(499 452.7)">0</text>
<text class="k" text-anchor="end" transform="translate(499.2 514.7) scale(1 1.16)">1.5</text>
<text class="k3" text-anchor="end" transform="translate(500.4 577.2) scale(1 1.05)">3.0</text>
<text class="kx" text-anchor="middle" transform="translate(507.9 593) scale(1 1.05)">0</text>
<text class="kx" text-anchor="middle" transform="translate(594.4 593) scale(1 1.05)">2</text>
<text class="kx" text-anchor="middle" transform="translate(678.4 593) scale(1 1.05)">4</text>
<text class="t" text-anchor="middle" transform="translate(594.5 610.3)">Distance (km)</text>
<text class="t" text-anchor="middle" transform="translate(475.5 510.4) rotate(-90)">Time (s)</text>
</g>
<g id="panel-j">
<rect x="54.2" y="645.9" width="172.8" height="131.1" fill="#5a5a5a"/>
<g clip-path="url(#cj)"><g filter="url(#rkj)" style="isolation:isolate">
<rect x="51.2" y="630.9" width="178.8" height="161.1" fill="#000"/>
<rect class="pl" x="54.2" y="702.16" width="2.5" height="1" fill="#790000"/><rect class="pl" x="59" y="702.39" width="2.5" height="1" fill="#790000"/><rect class="pl" x="69.3" y="704.21" width="2.5" height="1" fill="#790000"/><rect class="pl" x="76.2" y="706.28" width="2.5" height="1" fill="#790000"/><rect class="pl" x="79.3" y="707.47" width="2.5" height="1" fill="#790000"/><rect class="pl" x="86.2" y="710.37" width="2.5" height="1" fill="#790000"/><rect class="pl" x="94.8" y="714.68" width="2.5" height="1" fill="#790000"/><rect class="pl" x="100.2" y="717.73" width="2.5" height="1" fill="#790200"/><rect class="pl" x="107.2" y="721.85" width="2.5" height="1" fill="#790900"/><rect class="pl" x="115.6" y="726.92" width="2.5" height="1" fill="#791100"/><rect class="pl" x="123.7" y="731.91" width="2.5" height="1" fill="#791900"/><rect class="pl" x="125.7" y="733.12" width="2.5" height="1" fill="#791b00"/><rect class="pl" x="137.7" y="740.03" width="2.5" height="1" fill="#792800"/>
<rect class="pl" x="144.1" y="739.49" width="2.5" height="1" fill="#792700"/><rect class="pl" x="147.7" y="737.47" width="2.5" height="1" fill="#792300"/><rect class="pl" x="154.4" y="733.48" width="2.5" height="1" fill="#791c00"/><rect class="pl" x="159.4" y="730.43" width="2.5" height="1" fill="#791700"/><rect class="pl" x="167.9" y="725.19" width="2.5" height="1" fill="#790e00"/><rect class="pl" x="176.7" y="719.93" width="2.5" height="1" fill="#790500"/><rect class="pl" x="185.2" y="715.05" width="2.5" height="1" fill="#790000"/><rect class="pl" x="190.2" y="712.44" width="2.5" height="1" fill="#790000"/><rect class="pl" x="195.4" y="710.00" width="2.5" height="1" fill="#790000"/><rect class="pl" x="205.4" y="706.00" width="2.5" height="1" fill="#790000"/><rect class="pl" x="207.4" y="705.35" width="2.5" height="1" fill="#790000"/><rect class="pl" x="219.2" y="702.67" width="2.5" height="1" fill="#790000"/><rect class="pl" x="223.9" y="702.24" width="2.5" height="1" fill="#790000"/>
<rect class="pl" x="54.2" y="741.30" width="2.5" height="1" fill="#790000"/><rect class="pl" x="59" y="738.77" width="2.5" height="1" fill="#790000"/><rect class="pl" x="69.3" y="732.69" width="2.5" height="1" fill="#790000"/><rect class="pl" x="76.2" y="728.52" width="2.5" height="1" fill="#790000"/><rect class="pl" x="79.3" y="726.55" width="2.5" height="1" fill="#790000"/><rect class="pl" x="86.2" y="722.39" width="2.5" height="1" fill="#790000"/><rect class="pl" x="94.8" y="717.33" width="2.5" height="1" fill="#790000"/><rect class="pl" x="100.2" y="714.30" width="2.5" height="1" fill="#790000"/><rect class="pl" x="107.2" y="710.79" width="2.5" height="1" fill="#790000"/><rect class="pl" x="115.6" y="707.23" width="2.5" height="1" fill="#790000"/><rect class="pl" x="123.7" y="704.56" width="2.5" height="1" fill="#790000"/><rect class="pl" x="125.7" y="704.04" width="2.5" height="1" fill="#790000"/><rect class="pl" x="137.7" y="702.23" width="2.5" height="1" fill="#790000"/><rect class="pl" x="144.1" y="702.29" width="2.5" height="1" fill="#790000"/><rect class="pl" x="147.7" y="702.64" width="2.5" height="1" fill="#790000"/><rect class="pl" x="154.4" y="703.89" width="2.5" height="1" fill="#790000"/><rect class="pl" x="159.4" y="705.26" width="2.5" height="1" fill="#790000"/><rect class="pl" x="167.9" y="708.35" width="2.5" height="1" fill="#790000"/><rect class="pl" x="176.7" y="712.35" width="2.5" height="1" fill="#790000"/><rect class="pl" x="185.2" y="716.94" width="2.5" height="1" fill="#790000"/><rect class="pl" x="190.2" y="719.82" width="2.5" height="1" fill="#790000"/><rect class="pl" x="195.4" y="722.88" width="2.5" height="1" fill="#790000"/><rect class="pl" x="205.4" y="729.02" width="2.5" height="1" fill="#790000"/><rect class="pl" x="207.4" y="730.25" width="2.5" height="1" fill="#790000"/><rect class="pl" x="219.2" y="737.36" width="2.5" height="1" fill="#790000"/><rect class="pl" x="223.9" y="739.93" width="2.5" height="1" fill="#790000"/>
<rect class="pl" x="69.3" y="733.07" width="2.5" height="1" fill="#000b00"/><rect class="pl" x="76.2" y="729.80" width="2.5" height="1" fill="#003b00"/><rect class="pl" x="79.3" y="728.94" width="2.5" height="1" fill="#004f00"/><rect class="pl" x="86.2" y="727.95" width="2.5" height="1" fill="#004f00"/><rect class="pl" x="94.8" y="727.39" width="2.5" height="1" fill="#004f00"/><rect class="pl" x="100.2" y="727.58" width="2.5" height="1" fill="#004f00"/><rect class="pl" x="107.2" y="728.65" width="2.5" height="1" fill="#004f00"/><rect class="pl" x="115.6" y="731.37" width="2.5" height="1" fill="#002500"/>
<rect class="pl" x="167.9" y="730.25" width="2.5" height="1" fill="#003600"/><rect class="pl" x="176.7" y="728.04" width="2.5" height="1" fill="#004f00"/><rect class="pl" x="185.2" y="727.39" width="2.5" height="1" fill="#004f00"/><rect class="pl" x="190.2" y="727.58" width="2.5" height="1" fill="#004f00"/><rect class="pl" x="195.4" y="728.03" width="2.5" height="1" fill="#004f00"/><rect class="pl" x="205.4" y="730.07" width="2.5" height="1" fill="#003600"/><rect class="pl" x="207.4" y="730.87" width="2.5" height="1" fill="#002700"/>
</g></g>
<rect x="225.5" y="645.9" width="1.5" height="131.1" fill="#363636"/>
<rect x="53.1" y="645.9" width="1.1" height="131.9" fill="#111"/>
<rect x="53.1" y="645.9" width="173.9" height="1.1" fill="#000"/>
<rect x="53.1" y="776.7" width="173.9" height="1.1" fill="#000"/>
<rect x="46.3" y="646" width="6.8" height="1.2" fill="#333"/>
<rect x="46.3" y="710.9" width="6.8" height="1.2" fill="#333"/>
<rect x="46.3" y="776.7" width="6.8" height="1.2" fill="#333"/>
<rect x="53.2" y="777.8" width="1.1" height="4.8" fill="#111"/>
<rect x="140.1" y="777.8" width="1.1" height="4.8" fill="#111"/>
<rect x="225.2" y="777.8" width="1.1" height="4.8" fill="#111"/>
<text class="k0" text-anchor="end" transform="translate(47.1 653.6)">0</text>
<text class="k" text-anchor="end" transform="translate(46.3 715.1) scale(1 1.16)">1.5</text>
<text class="k3" text-anchor="end" transform="translate(47.8 777.8) scale(1 1.05)">3.0</text>
<text class="kx" text-anchor="middle" transform="translate(54.9 793.6) scale(1 1.05)">0</text>
<text class="kx" text-anchor="middle" transform="translate(141.4 793.6) scale(1 1.05)">2</text>
<text class="kx" text-anchor="middle" transform="translate(225.8 793.6) scale(1 1.05)">4</text>
<text class="t" text-anchor="middle" transform="translate(141.6 811.4)">Distance (km)</text>
<text class="t" text-anchor="middle" transform="translate(21.1 710.6) rotate(-90)">Time (s)</text>
</g>
<g id="panel-k">
<rect x="282.1" y="647.8" width="172.7" height="131" fill="#575757"/>
<g clip-path="url(#ck)"><g filter="url(#rkk)" style="isolation:isolate">
<rect x="279.1" y="632.8" width="178.7" height="161" fill="#000"/>
<polygon class="pl" fill="url(#g21)" points="282.1,703.4 284.1,703.4 286.1,703.5 288.1,703.9 290.1,704.3 292.1,704.9 294,705.6 296,706.4 298,707.2 300,708 302,708.9 304,709.7 306,710.5 308,711.2 310,712 312,712.7 314,713.5 315.9,714.2 317.9,715 319.9,715.8 321.9,716.7 323.9,717.6 325.9,718.5 327.9,719.4 329.9,720.4 331.9,721.5 333.9,722.6 335.9,723.7 337.8,724.8 339.8,726 341.8,727.2 343.8,728.4 345.8,729.6 347.8,730.9 349.8,732.2 351.8,733.4 353.8,734.7 355.8,736 357.7,737.3 359.7,738.6 361.7,739.9 363.7,741.2 365.7,742.5 367.7,743.8 368.5,744.2 368.5,745.2 367.7,744.8 365.7,743.5 363.7,742.2 361.7,740.9 359.7,739.6 357.7,738.3 355.8,737 353.8,735.7 351.8,734.4 349.8,733.2 347.8,731.9 345.8,730.6 343.8,729.4 341.8,728.2 339.8,727 337.8,725.8 335.9,724.7 333.9,723.6 331.9,722.5 329.9,721.4 327.9,720.4 325.9,719.5 323.9,718.6 321.9,717.7 319.9,716.8 317.9,716 315.9,715.2 314,714.5 312,713.7 310,713 308,712.2 306,711.5 304,710.7 302,709.9 300,709 298,708.2 296,707.4 294,706.6 292.1,705.9 290.1,705.3 288.1,704.9 286.1,704.5 284.1,704.4 282.1,704.4"/>
<polygon class="pl" fill="url(#g22)" points="368.5,744.2 370.4,743 372.4,741.7 374.4,740.4 376.4,739.1 378.4,737.8 380.4,736.5 382.4,735.2 384.4,733.9 386.4,732.6 388.4,731.4 390.3,730.1 392.3,728.9 394.3,727.6 396.3,726.4 398.3,725.3 400.3,724.1 402.3,723 404.3,721.9 406.3,720.8 408.3,719.8 410.3,718.8 412.2,717.9 414.2,717 416.2,716.1 418.2,715.3 420.2,714.5 422.2,713.8 424.2,713 426.2,712.3 428.2,711.5 430.2,710.7 432.2,710 434.1,709.2 436.1,708.4 438.1,707.5 440.1,706.7 442.1,705.9 444.1,705.2 446.1,704.6 448.1,704 450.1,703.6 452.1,703.4 454.1,703.4 454.8,703.4 454.8,704.4 454.1,704.4 452.1,704.4 450.1,704.6 448.1,705 446.1,705.6 444.1,706.2 442.1,706.9 440.1,707.7 438.1,708.5 436.1,709.4 434.1,710.2 432.2,711 430.2,711.7 428.2,712.5 426.2,713.3 424.2,714 422.2,714.8 420.2,715.5 418.2,716.3 416.2,717.1 414.2,718 412.2,718.9 410.3,719.8 408.3,720.8 406.3,721.8 404.3,722.9 402.3,724 400.3,725.1 398.3,726.3 396.3,727.4 394.3,728.6 392.3,729.9 390.3,731.1 388.4,732.4 386.4,733.6 384.4,734.9 382.4,736.2 380.4,737.5 378.4,738.8 376.4,740.1 374.4,741.4 372.4,742.7 370.4,744 368.5,745.2"/>
<polygon class="pl" fill="#b20000" points="282.1,742 284.1,740.7 286.1,739.3 288.1,738 290.1,736.8 292.1,735.5 294,734.3 296,733 298,731.8 300,730.7 302,729.5 304,728.4 306,727.2 308,726.1 310,725 312,723.9 314,722.8 315.9,721.7 317.9,720.6 319.9,719.6 321.9,718.5 323.9,717.5 325.9,716.4 327.9,715.3 329.9,714.3 331.9,713.3 333.9,712.3 335.9,711.4 337.8,710.5 339.8,709.7 341.8,708.9 343.8,708.2 345.8,707.5 347.8,707 349.8,706.5 351.8,706.1 353.8,705.7 355.8,705.5 357.7,705.2 359.7,705 361.7,704.9 363.7,704.8 365.7,704.7 367.7,704.7 369.7,704.7 371.7,704.7 373.7,704.8 375.7,704.9 377.7,705.1 379.6,705.3 381.6,705.5 383.6,705.8 385.6,706.2 387.6,706.6 389.6,707.1 391.6,707.7 393.6,708.3 395.6,709.1 397.6,709.9 399.6,710.7 401.5,711.6 403.5,712.6 405.5,713.6 407.5,714.6 409.5,715.6 411.5,716.7 413.5,717.7 415.5,718.8 417.5,719.8 419.5,720.9 421.5,722 423.4,723.1 425.4,724.2 427.4,725.3 429.4,726.4 431.4,727.5 433.4,728.6 435.4,729.8 437.4,731 439.4,732.1 441.4,733.3 443.4,734.6 445.3,735.8 447.3,737.1 449.3,738.4 451.3,739.7 453.3,741 454.8,742 454.8,743 453.3,742 451.3,740.7 449.3,739.4 447.3,738.1 445.3,736.8 443.4,735.6 441.4,734.3 439.4,733.1 437.4,732 435.4,730.8 433.4,729.6 431.4,728.5 429.4,727.4 427.4,726.3 425.4,725.2 423.4,724.1 421.5,723 419.5,721.9 417.5,720.8 415.5,719.8 413.5,718.7 411.5,717.7 409.5,716.6 407.5,715.6 405.5,714.6 403.5,713.6 401.5,712.6 399.6,711.7 397.6,710.9 395.6,710.1 393.6,709.3 391.6,708.7 389.6,708.1 387.6,707.6 385.6,707.2 383.6,706.8 381.6,706.5 379.6,706.3 377.7,706.1 375.7,705.9 373.7,705.8 371.7,705.7 369.7,705.7 367.7,705.7 365.7,705.7 363.7,705.8 361.7,705.9 359.7,706 357.7,706.2 355.8,706.5 353.8,706.7 351.8,707.1 349.8,707.5 347.8,708 345.8,708.5 343.8,709.2 341.8,709.9 339.8,710.7 337.8,711.5 335.9,712.4 333.9,713.3 331.9,714.3 329.9,715.3 327.9,716.3 325.9,717.4 323.9,718.5 321.9,719.5 319.9,720.6 317.9,721.6 315.9,722.7 314,723.8 312,724.9 310,726 308,727.1 306,728.2 304,729.4 302,730.5 300,731.7 298,732.8 296,734 294,735.3 292.1,736.5 290.1,737.8 288.1,739 286.1,740.3 284.1,741.7 282.1,743"/>
<polygon class="pl" fill="url(#g23)" points="294,737.9 296,736.5 298,735.3 300,734.3 302,733.4 304,732.7 306,732.1 308,731.7 310,731.3 312,731 314,730.7 315.9,730.5 317.9,730.4 319.9,730.2 321.9,730.2 323.9,730.1 325.9,730.2 327.9,730.3 329.9,730.5 331.9,730.7 333.9,731.1 335.9,731.5 337.8,732.1 339.8,732.7 341.8,733.5 343.8,734.3 345.8,735.2 347.8,736.2 349.8,737.3 351.8,738.4 351.8,739.4 349.8,738.3 347.8,737.2 345.8,736.2 343.8,735.3 341.8,734.5 339.8,733.7 337.8,733.1 335.9,732.5 333.9,732.1 331.9,731.7 329.9,731.5 327.9,731.3 325.9,731.2 323.9,731.1 321.9,731.2 319.9,731.2 317.9,731.4 315.9,731.5 314,731.7 312,732 310,732.3 308,732.7 306,733.1 304,733.7 302,734.4 300,735.3 298,736.3 296,737.5 294,738.9"/>
<polygon class="pl" fill="url(#g24)" points="385.1,738.4 387.1,737.3 389.1,736.2 391.1,735.2 393.1,734.3 395.1,733.5 397.1,732.7 399.1,732.1 401,731.5 403,731.1 405,730.7 407,730.5 409,730.3 411,730.2 413,730.1 415,730.2 417,730.2 419,730.4 421,730.5 422.9,730.7 424.9,731 426.9,731.3 428.9,731.7 430.9,732.1 432.9,732.7 434.9,733.4 436.9,734.3 438.9,735.3 440.9,736.5 442.9,737.9 442.9,738.9 440.9,737.5 438.9,736.3 436.9,735.3 434.9,734.4 432.9,733.7 430.9,733.1 428.9,732.7 426.9,732.3 424.9,732 422.9,731.7 421,731.5 419,731.4 417,731.2 415,731.2 413,731.1 411,731.2 409,731.3 407,731.5 405,731.7 403,732.1 401,732.5 399.1,733.1 397.1,733.7 395.1,734.5 393.1,735.3 391.1,736.2 389.1,737.2 387.1,738.3 385.1,739.4"/>
</g></g>
<rect x="453.3" y="647.8" width="1.5" height="131" fill="#363636"/>
<rect x="281" y="647.8" width="1.1" height="131.8" fill="#111"/>
<rect x="281" y="647.8" width="173.8" height="1.1" fill="#000"/>
<rect x="281" y="778.5" width="173.8" height="1.1" fill="#000"/>
<rect x="274.2" y="647.9" width="6.8" height="1.2" fill="#333"/>
<rect x="274.2" y="712.8" width="6.8" height="1.2" fill="#333"/>
<rect x="274.2" y="778.5" width="6.8" height="1.2" fill="#333"/>
<rect x="281.1" y="779.6" width="1.1" height="4.8" fill="#111"/>
<rect x="367.9" y="779.6" width="1.1" height="4.8" fill="#111"/>
<rect x="453.1" y="779.6" width="1.1" height="4.8" fill="#111"/>
<text class="k0" text-anchor="end" transform="translate(272.9 653.1)">0</text>
<text class="k" text-anchor="end" transform="translate(276.5 718.9) scale(1 1.16)">1.5</text>
<text class="k3" text-anchor="end" transform="translate(274.4 783.8) scale(1 1.05)">3.0</text>
<text class="kx" text-anchor="middle" transform="translate(281.7 796.3) scale(1 1.05)">0</text>
<text class="kx" text-anchor="middle" transform="translate(368 796.3) scale(1 1.05)">2</text>
<text class="kx" text-anchor="middle" transform="translate(455.3 796.3) scale(1 1.05)">4</text>
<text class="t" text-anchor="middle" transform="translate(368 814.4)">Distance (km)</text>
<text class="t" text-anchor="middle" transform="translate(251.9 714.4) rotate(-90)">Time (s)</text>
</g>
<g id="panel-l">
<rect x="511" y="649.9" width="172.8" height="131.1" fill="#5a5a5a"/>
<g clip-path="url(#cl)"><g filter="url(#rkl)" style="isolation:isolate">
<rect x="508" y="634.9" width="178.8" height="161.1" fill="#000"/>
<polygon class="pl" fill="url(#g25)" points="511,705.5 513,705.5 515,705.7 517,706 519,706.5 521,707.1 523,707.8 524.9,708.5 526.9,709.4 528.9,710.2 530.9,711 532.9,711.8 534.9,712.6 536.9,713.4 538.9,714.1 540.9,714.9 542.9,715.6 544.9,716.4 546.9,717.2 548.8,718 550.8,718.8 552.8,719.7 554.8,720.6 556.8,721.6 558.8,722.6 560.8,723.6 562.8,724.7 564.8,725.8 566.8,727 568.8,728.2 570.8,729.3 572.7,730.6 574.7,731.8 576.7,733.1 578.7,734.3 580.7,735.6 582.7,736.9 584.7,738.2 586.7,739.5 588.7,740.8 590.7,742.1 592.7,743.4 594.7,744.7 596.7,745.9 597.4,746.4 597.4,747.4 596.7,746.9 594.7,745.7 592.7,744.4 590.7,743.1 588.7,741.8 586.7,740.5 584.7,739.2 582.7,737.9 580.7,736.6 578.7,735.3 576.7,734.1 574.7,732.8 572.7,731.6 570.8,730.3 568.8,729.2 566.8,728 564.8,726.8 562.8,725.7 560.8,724.6 558.8,723.6 556.8,722.6 554.8,721.6 552.8,720.7 550.8,719.8 548.8,719 546.9,718.2 544.9,717.4 542.9,716.6 540.9,715.9 538.9,715.1 536.9,714.4 534.9,713.6 532.9,712.8 530.9,712 528.9,711.2 526.9,710.4 524.9,709.5 523,708.8 521,708.1 519,707.5 517,707 515,706.7 513,706.5 511,706.5"/>
<polygon class="pl" fill="url(#g26)" points="597.4,746.4 599.4,745.1 601.4,743.9 603.4,742.6 605.4,741.3 607.4,740 609.4,738.7 611.3,737.4 613.3,736.1 615.3,734.8 617.3,733.5 619.3,732.3 621.3,731 623.3,729.8 625.3,728.6 627.3,727.4 629.3,726.3 631.3,725.1 633.3,724 635.2,723 637.2,722 639.2,721 641.2,720 643.2,719.2 645.2,718.3 647.2,717.5 649.2,716.7 651.2,715.9 653.2,715.2 655.2,714.4 657.2,713.7 659.1,712.9 661.1,712.1 663.1,711.3 665.1,710.5 667.1,709.7 669.1,708.8 671.1,708.1 673.1,707.3 675.1,706.7 677.1,706.2 679.1,705.8 681.1,705.5 683.1,705.5 683.8,705.5 683.8,706.5 683.1,706.5 681.1,706.5 679.1,706.8 677.1,707.2 675.1,707.7 673.1,708.3 671.1,709.1 669.1,709.8 667.1,710.7 665.1,711.5 663.1,712.3 661.1,713.1 659.1,713.9 657.2,714.7 655.2,715.4 653.2,716.2 651.2,716.9 649.2,717.7 647.2,718.5 645.2,719.3 643.2,720.2 641.2,721 639.2,722 637.2,723 635.2,724 633.3,725 631.3,726.1 629.3,727.3 627.3,728.4 625.3,729.6 623.3,730.8 621.3,732 619.3,733.3 617.3,734.5 615.3,735.8 613.3,737.1 611.3,738.4 609.4,739.7 607.4,741 605.4,742.3 603.4,743.6 601.4,744.9 599.4,746.1 597.4,747.4"/>
<polygon class="pl" fill="#b20000" points="511,744.2 513,742.9 515,741.5 517,740.2 519,738.9 521,737.7 523,736.4 524.9,735.2 526.9,734 528.9,732.8 530.9,731.7 532.9,730.5 534.9,729.4 536.9,728.3 538.9,727.1 540.9,726 542.9,725 544.9,723.9 546.9,722.8 548.8,721.7 550.8,720.7 552.8,719.6 554.8,718.5 556.8,717.5 558.8,716.5 560.8,715.5 562.8,714.5 564.8,713.5 566.8,712.7 568.8,711.8 570.8,711 572.7,710.3 574.7,709.7 576.7,709.1 578.7,708.6 580.7,708.2 582.7,707.9 584.7,707.6 586.7,707.4 588.7,707.2 590.7,707 592.7,706.9 594.7,706.9 596.7,706.8 598.6,706.8 600.6,706.9 602.6,707 604.6,707.1 606.6,707.2 608.6,707.4 610.6,707.7 612.6,708 614.6,708.3 616.6,708.8 618.6,709.3 620.6,709.8 622.5,710.5 624.5,711.2 626.5,712 628.5,712.9 630.5,713.8 632.5,714.7 634.5,715.7 636.5,716.7 638.5,717.8 640.5,718.8 642.5,719.9 644.5,720.9 646.5,722 648.4,723.1 650.4,724.1 652.4,725.2 654.4,726.3 656.4,727.4 658.4,728.5 660.4,729.7 662.4,730.8 664.4,732 666.4,733.1 668.4,734.3 670.4,735.5 672.3,736.7 674.3,738 676.3,739.2 678.3,740.5 680.3,741.9 682.3,743.2 683.8,744.2 683.8,745.2 682.3,744.2 680.3,742.9 678.3,741.5 676.3,740.2 674.3,739 672.3,737.7 670.4,736.5 668.4,735.3 666.4,734.1 664.4,733 662.4,731.8 660.4,730.7 658.4,729.5 656.4,728.4 654.4,727.3 652.4,726.2 650.4,725.1 648.4,724.1 646.5,723 644.5,721.9 642.5,720.9 640.5,719.8 638.5,718.8 636.5,717.7 634.5,716.7 632.5,715.7 630.5,714.8 628.5,713.9 626.5,713 624.5,712.2 622.5,711.5 620.6,710.8 618.6,710.3 616.6,709.8 614.6,709.3 612.6,709 610.6,708.7 608.6,708.4 606.6,708.2 604.6,708.1 602.6,708 600.6,707.9 598.6,707.8 596.7,707.8 594.7,707.9 592.7,707.9 590.7,708 588.7,708.2 586.7,708.4 584.7,708.6 582.7,708.9 580.7,709.2 578.7,709.6 576.7,710.1 574.7,710.7 572.7,711.3 570.8,712 568.8,712.8 566.8,713.7 564.8,714.5 562.8,715.5 560.8,716.5 558.8,717.5 556.8,718.5 554.8,719.5 552.8,720.6 550.8,721.7 548.8,722.7 546.9,723.8 544.9,724.9 542.9,726 540.9,727 538.9,728.1 536.9,729.3 534.9,730.4 532.9,731.5 530.9,732.7 528.9,733.8 526.9,735 524.9,736.2 523,737.4 521,738.7 519,739.9 517,741.2 515,742.5 513,743.9 511,745.2"/>
<polygon class="pl" fill="url(#g27)" points="523,740.1 524.9,738.7 526.9,737.5 528.9,736.5 530.9,735.6 532.9,734.9 534.9,734.3 536.9,733.8 538.9,733.5 540.9,733.1 542.9,732.9 544.9,732.7 546.9,732.5 548.8,732.4 550.8,732.3 552.8,732.3 554.8,732.3 556.8,732.4 558.8,732.6 560.8,732.9 562.8,733.3 564.8,733.7 566.8,734.3 568.8,734.9 570.8,735.6 572.7,736.4 574.7,737.4 576.7,738.4 578.7,739.4 580.7,740.6 580.7,741.6 578.7,740.4 576.7,739.4 574.7,738.4 572.7,737.4 570.8,736.6 568.8,735.9 566.8,735.3 564.8,734.7 562.8,734.3 560.8,733.9 558.8,733.6 556.8,733.4 554.8,733.3 552.8,733.3 550.8,733.3 548.8,733.4 546.9,733.5 544.9,733.7 542.9,733.9 540.9,734.1 538.9,734.5 536.9,734.8 534.9,735.3 532.9,735.9 530.9,736.6 528.9,737.5 526.9,738.5 524.9,739.7 523,741.1"/>
<polygon class="pl" fill="url(#g28)" points="614.1,740.6 616.1,739.4 618.1,738.4 620.1,737.4 622.1,736.4 624,735.6 626,734.9 628,734.3 630,733.7 632,733.3 634,732.9 636,732.6 638,732.4 640,732.3 642,732.3 644,732.3 646,732.4 647.9,732.5 649.9,732.7 651.9,732.9 653.9,733.1 655.9,733.5 657.9,733.8 659.9,734.3 661.9,734.9 663.9,735.6 665.9,736.5 667.9,737.5 669.9,738.7 671.8,740.1 671.8,741.1 669.9,739.7 667.9,738.5 665.9,737.5 663.9,736.6 661.9,735.9 659.9,735.3 657.9,734.8 655.9,734.5 653.9,734.1 651.9,733.9 649.9,733.7 647.9,733.5 646,733.4 644,733.3 642,733.3 640,733.3 638,733.4 636,733.6 634,733.9 632,734.3 630,734.7 628,735.3 626,735.9 624,736.6 622.1,737.4 620.1,738.4 618.1,739.4 616.1,740.4 614.1,741.6"/>
</g></g>
<rect x="682.3" y="649.9" width="1.5" height="131.1" fill="#363636"/>
<rect x="509.9" y="649.9" width="1.1" height="131.9" fill="#111"/>
<rect x="509.9" y="649.9" width="173.9" height="1.1" fill="#000"/>
<rect x="509.9" y="780.7" width="173.9" height="1.1" fill="#000"/>
<rect x="503.1" y="650" width="6.8" height="1.2" fill="#333"/>
<rect x="503.1" y="714.9" width="6.8" height="1.2" fill="#333"/>
<rect x="503.1" y="780.7" width="6.8" height="1.2" fill="#333"/>
<rect x="509.9" y="781.8" width="1.1" height="4.8" fill="#111"/>
<rect x="596.9" y="781.8" width="1.1" height="4.8" fill="#111"/>
<rect x="682" y="781.8" width="1.1" height="4.8" fill="#111"/>
<text class="k0" text-anchor="end" transform="translate(502.1 656.9)">0</text>
<text class="k" text-anchor="end" transform="translate(501.7 719.4) scale(1 1.16)">1.5</text>
<text class="k3" text-anchor="end" transform="translate(502.9 781.5) scale(1 1.05)">3.0</text>
<text class="kx" text-anchor="middle" transform="translate(510.6 797.6) scale(1 1.05)">0</text>
<text class="kx" text-anchor="middle" transform="translate(597 797.6) scale(1 1.05)">2</text>
<text class="kx" text-anchor="middle" transform="translate(681.2 797.6) scale(1 1.05)">4</text>
<text class="t" text-anchor="middle" transform="translate(597 815.1)">Distance (km)</text>
<text class="t" text-anchor="middle" transform="translate(481 714.5) rotate(-90)">Time (s)</text>
</g>
<text class="b" transform="translate(6.2 17.3) scale(1 1.02)">(a)</text>
<text class="b" transform="translate(237 17.3) scale(1 1.02)">(b)</text>
<text class="b" transform="translate(473.1 17.3) scale(1 1.02)">(c)</text>
<text class="b" transform="translate(6.2 232.1) scale(1 1.02)">(d)</text>
<text class="b" transform="translate(239.2 232.1) scale(1 1.02)">(e)</text>
<text class="b" transform="translate(467.5 232.1) scale(1 1.02)">(f)</text>
<text class="b" transform="translate(8.3 432.1) scale(1 1.02)">(g)</text>
<text class="b" transform="translate(241.3 432.1) scale(1 1.02)">(h)</text>
<text class="b" transform="translate(469.2 432.4) scale(1 1.02)">(i)</text>
<text class="b" transform="translate(10.9 638.6) scale(1 1.02)">(j)</text>
<text class="b" transform="translate(242.2 638.8) scale(1 1.02)">(k)</text>
<text class="b" transform="translate(478.3 638.8) scale(1 1.02)">(l)</text>
<text class="t" transform="translate(60.5 23.6)">Sparse Seismic Data</text>
<text class="t" transform="translate(265.6 25.1)">Interpolated Seismic Data</text>
<text class="t" transform="translate(525.3 27.2)">True Seismic Data</text>
</svg></body></html>
